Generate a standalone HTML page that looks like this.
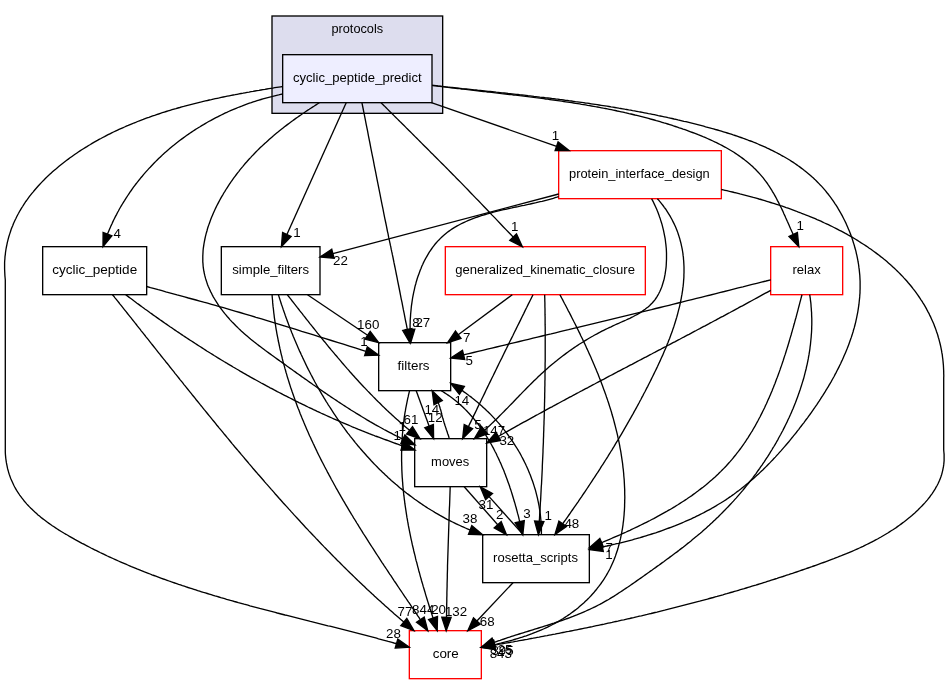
<!DOCTYPE html><html><head><meta charset="utf-8"><style>html,body{margin:0;padding:0;background:#fff}svg{display:block;will-change:transform}text{font-family:"Liberation Sans",sans-serif;font-size:13.33px;fill:#000}</style></head><body>
<svg width="949" height="684" viewBox="0 0 949 684">
<rect width="949" height="684" fill="#fff"/>
<rect x="272" y="16" width="170.67" height="97.33" fill="#ddddee" stroke="#000" stroke-width="1.333"/>
<text x="357.3" y="32.8" text-anchor="middle" textLength="51.7" lengthAdjust="spacingAndGlyphs">protocols</text>
<rect x="282.67" y="54.67" width="149.33" height="48" fill="#eeeeff" stroke="#000" stroke-width="1.333"/>
<text x="357.33" y="81.77" text-anchor="middle" textLength="128.7" lengthAdjust="spacingAndGlyphs">cyclic_peptide_predict</text>
<rect x="558.67" y="150.67" width="162.67" height="48" fill="white" stroke="#ff0000" stroke-width="1.333"/>
<text x="639.40" y="177.77" text-anchor="middle" textLength="140.7" lengthAdjust="spacingAndGlyphs">protein_interface_design</text>
<rect x="42.67" y="246.67" width="104.00" height="48" fill="white" stroke="#000" stroke-width="1.333"/>
<text x="94.67" y="273.77" text-anchor="middle" textLength="85.0" lengthAdjust="spacingAndGlyphs">cyclic_peptide</text>
<rect x="221.33" y="246.67" width="98.67" height="48" fill="white" stroke="#000" stroke-width="1.333"/>
<text x="270.67" y="273.77" text-anchor="middle" textLength="76.8" lengthAdjust="spacingAndGlyphs">simple_filters</text>
<rect x="445.33" y="246.67" width="200.00" height="48" fill="white" stroke="#ff0000" stroke-width="1.333"/>
<text x="545.13" y="273.77" text-anchor="middle" textLength="179.7" lengthAdjust="spacingAndGlyphs">generalized_kinematic_closure</text>
<rect x="770.67" y="246.67" width="72.00" height="48" fill="white" stroke="#ff0000" stroke-width="1.333"/>
<text x="806.67" y="273.77" text-anchor="middle" textLength="28.3" lengthAdjust="spacingAndGlyphs">relax</text>
<rect x="378.67" y="342.67" width="72.00" height="48" fill="white" stroke="#000" stroke-width="1.333"/>
<text x="413.57" y="369.77" text-anchor="middle" textLength="32.0" lengthAdjust="spacingAndGlyphs">filters</text>
<rect x="414.67" y="438.67" width="72.00" height="48" fill="white" stroke="#000" stroke-width="1.333"/>
<text x="450.17" y="465.77" text-anchor="middle" textLength="38.1" lengthAdjust="spacingAndGlyphs">moves</text>
<rect x="482.67" y="534.67" width="106.67" height="48" fill="white" stroke="#000" stroke-width="1.333"/>
<text x="535.50" y="561.77" text-anchor="middle" textLength="84.9" lengthAdjust="spacingAndGlyphs">rosetta_scripts</text>
<rect x="409.33" y="630.67" width="72.00" height="48" fill="white" stroke="#ff0000" stroke-width="1.333"/>
<text x="445.73" y="657.77" text-anchor="middle" textLength="26.1" lengthAdjust="spacingAndGlyphs">core</text>
<text x="117.3" y="237.6" text-anchor="middle">4</text>
<text x="297.0" y="237.1" text-anchor="middle">1</text>
<text x="340.4" y="265.4" text-anchor="middle">22</text>
<text x="555.5" y="140.3" text-anchor="middle">1</text>
<text x="514.8" y="230.9" text-anchor="middle">1</text>
<text x="800.3" y="230.1" text-anchor="middle">1</text>
<text x="368.2" y="328.7" text-anchor="middle">160</text>
<text x="416.0" y="326.5" text-anchor="middle">8</text>
<text x="422.8" y="326.5" text-anchor="middle">27</text>
<text x="363.9" y="345.6" text-anchor="middle">1</text>
<text x="466.8" y="342.1" text-anchor="middle">7</text>
<text x="469.3" y="364.9" text-anchor="middle">5</text>
<text x="461.8" y="404.5" text-anchor="middle">14</text>
<text x="431.8" y="413.9" text-anchor="middle">14</text>
<text x="435.2" y="421.5" text-anchor="middle">12</text>
<text x="411.0" y="423.7" text-anchor="middle">61</text>
<text x="402.1" y="431.2" text-anchor="middle">1</text>
<text x="397.2" y="439.9" text-anchor="middle">1</text>
<text x="477.9" y="428.7" text-anchor="middle">5</text>
<text x="494.0" y="434.6" text-anchor="middle">147</text>
<text x="506.8" y="445.3" text-anchor="middle">32</text>
<text x="486.0" y="508.5" text-anchor="middle">31</text>
<text x="499.7" y="519.1" text-anchor="middle">2</text>
<text x="526.9" y="517.8" text-anchor="middle">3</text>
<text x="548.2" y="520.1" text-anchor="middle">1</text>
<text x="571.8" y="528.3" text-anchor="middle">48</text>
<text x="470.0" y="522.9" text-anchor="middle">38</text>
<text x="609.2" y="552.0" text-anchor="middle">7</text>
<text x="609.0" y="559.1" text-anchor="middle">1</text>
<text x="405.0" y="615.9" text-anchor="middle">77</text>
<text x="423.2" y="613.9" text-anchor="middle">844</text>
<text x="438.6" y="613.9" text-anchor="middle">20</text>
<text x="456.0" y="615.9" text-anchor="middle">132</text>
<text x="487.2" y="626.0" text-anchor="middle">68</text>
<text x="393.4" y="638.2" text-anchor="middle">28</text>
<text x="502.5" y="654.7" text-anchor="middle">395</text>
<text x="505.0" y="653.5" text-anchor="middle">25</text>
<text x="500.8" y="658.1" text-anchor="middle">843</text>
<g fill="none" stroke="#000" stroke-width="1.333">
<path d="M282.7,86.5 L280.7,86.8 L278.7,87.1 L276.8,87.4 L274.8,87.7 L272.8,88.1 L270.9,88.4 L268.9,88.7 L266.9,89.0 L264.9,89.4 L262.9,89.7 L261.0,90.0 L259.0,90.4 L257.0,90.7 L255.0,91.0 L253.0,91.4 L251.0,91.7 L249.1,92.1 L247.1,92.4 L245.1,92.8 L243.1,93.2 L241.1,93.5 L239.1,93.9 L237.1,94.3 L235.1,94.7 L233.2,95.0 L231.2,95.4 L229.2,95.8 L227.2,96.2 L225.2,96.6 L223.2,97.0 L221.2,97.4 L219.3,97.9 L217.3,98.3 L215.3,98.7 L213.3,99.1 L211.3,99.6 L209.3,100.0 L207.4,100.5 L205.4,100.9 L203.4,101.4 L201.4,101.9 L199.5,102.3 L197.5,102.8 L195.5,103.3 L193.5,103.8 L191.6,104.3 L189.6,104.8 L187.6,105.3 L185.7,105.8 L183.7,106.4 L181.8,106.9 L179.8,107.5 L177.9,108.0 L175.9,108.6 L174.0,109.1 L172.0,109.7 L170.1,110.3 L168.1,110.9 L166.2,111.5 L164.3,112.1 L162.3,112.7 L160.4,113.3 L158.5,114.0 L156.6,114.6 L154.6,115.3 L152.7,115.9 L150.8,116.6 L148.9,117.3 L147.0,117.9 L145.1,118.6 L143.2,119.4 L141.3,120.1 L139.4,120.8 L137.6,121.5 L135.7,122.3 L133.8,123.0 L131.9,123.8 L130.1,124.6 L128.2,125.4 L126.3,126.1 L124.5,127.0 L122.7,127.8 L120.8,128.6 L119.0,129.4 L117.1,130.3 L115.3,131.2 L113.5,132.0 L111.7,132.9 L109.9,133.8 L108.1,134.7 L106.3,135.6 L104.5,136.6 L102.7,137.5 L100.9,138.5 L99.1,139.4 L97.4,140.4 L95.6,141.4 L93.8,142.4 L92.1,143.4 L90.4,144.5 L88.6,145.5 L86.9,146.6 L85.2,147.6 L83.4,148.7 L81.7,149.8 L80.0,150.9 L78.3,152.0 L76.6,153.2 L75.0,154.3 L73.3,155.5 L71.6,156.7 L70.0,157.8 L68.3,159.1 L66.7,160.3 L65.1,161.5 L63.5,162.7 L61.9,164.0 L60.3,165.3 L58.7,166.6 L57.1,167.9 L55.6,169.2 L54.0,170.5 L52.5,171.8 L51.0,173.2 L49.5,174.6 L48.0,175.9 L46.6,177.3 L45.1,178.7 L43.7,180.2 L42.3,181.6 L40.9,183.1 L39.6,184.5 L38.2,186.0 L36.9,187.5 L35.6,189.0 L34.3,190.5 L33.0,192.1 L31.7,193.6 L30.5,195.2 L29.3,196.7 L28.1,198.3 L27.0,199.9 L25.8,201.5 L24.7,203.2 L23.6,204.8 L22.6,206.5 L21.5,208.2 L20.5,209.8 L19.5,211.5 L18.6,213.3 L17.6,215.0 L16.7,216.7 L15.9,218.5 L15.0,220.3 L14.2,222.0 L13.4,223.8 L12.7,225.7 L11.9,227.5 L11.2,229.3 L10.6,231.2 L10.0,233.1 L9.4,234.9 L8.8,236.8 L8.3,238.7 L7.8,240.7 L7.3,242.6 L6.9,244.6 L6.5,246.5 L6.1,248.5 L5.8,250.5 L5.5,252.5 L5.3,254.6 L5.0,256.6 L4.9,258.7 L4.7,260.7 L4.6,262.8 L4.6,264.9 L4.6,267.0 L4.6,269.1 L4.7,271.3 L4.8,273.4 L4.9,275.6 L5.1,277.8 L5.3,280.0 L5.3,452.0 L5.4,454.2 L5.6,456.4 L5.8,458.5 L6.1,460.6 L6.4,462.7 L6.8,464.7 L7.2,466.7 L7.6,468.7 L8.2,470.7 L8.7,472.6 L9.3,474.5 L10.0,476.4 L10.6,478.2 L11.4,480.0 L12.2,481.8 L13.0,483.5 L13.8,485.3 L14.7,487.0 L15.6,488.6 L16.6,490.3 L17.6,491.9 L18.7,493.5 L19.7,495.1 L20.9,496.6 L22.0,498.2 L23.2,499.7 L24.4,501.2 L25.6,502.6 L26.9,504.1 L28.2,505.5 L29.5,506.9 L30.9,508.3 L32.3,509.6 L33.7,510.9 L35.1,512.3 L36.6,513.6 L38.0,514.9 L39.5,516.1 L41.1,517.4 L42.6,518.6 L44.2,519.8 L45.8,521.0 L47.4,522.2 L49.0,523.4 L50.6,524.5 L52.3,525.7 L54.0,526.8 L55.6,527.9 L57.3,529.0 L59.0,530.1 L60.8,531.2 L62.5,532.2 L64.2,533.3 L66.0,534.3 L67.7,535.3 L69.5,536.4 L71.3,537.4 L73.1,538.4 L74.8,539.4 L76.6,540.4 L78.4,541.3 L80.2,542.3 L82.0,543.3 L83.8,544.2 L85.6,545.2 L87.4,546.1 L89.2,547.0 L91.0,548.0 L92.8,548.9 L94.6,549.8 L96.5,550.7 L98.3,551.6 L100.1,552.5 L101.9,553.3 L103.7,554.2 L105.6,555.1 L107.4,556.0 L109.2,556.8 L111.1,557.7 L112.9,558.5 L114.8,559.3 L116.6,560.2 L118.4,561.0 L120.3,561.8 L122.1,562.6 L124.0,563.4 L125.9,564.2 L127.7,565.0 L129.6,565.8 L131.4,566.6 L133.3,567.3 L135.2,568.1 L137.0,568.9 L138.9,569.6 L140.8,570.4 L142.6,571.1 L144.5,571.9 L146.4,572.6 L148.3,573.3 L150.1,574.0 L152.0,574.8 L153.9,575.5 L155.8,576.2 L157.7,576.9 L159.6,577.6 L161.5,578.3 L163.4,579.0 L165.3,579.6 L167.2,580.3 L169.0,581.0 L170.9,581.7 L172.8,582.3 L174.8,583.0 L176.7,583.6 L178.6,584.3 L180.5,584.9 L182.4,585.6 L184.3,586.2 L186.2,586.8 L188.1,587.5 L190.0,588.1 L191.9,588.7 L193.9,589.3 L195.8,589.9 L197.7,590.6 L199.6,591.2 L201.5,591.8 L203.5,592.4 L205.4,592.9 L207.3,593.5 L209.2,594.1 L211.2,594.7 L213.1,595.3 L215.0,595.9 L217.0,596.4 L218.9,597.0 L220.8,597.6 L222.8,598.1 L224.7,598.7 L226.6,599.3 L228.6,599.8 L230.5,600.4 L232.4,600.9 L234.4,601.5 L236.3,602.0 L238.3,602.6 L240.2,603.1 L242.1,603.6 L244.1,604.2 L246.0,604.7 L248.0,605.2 L249.9,605.8 L251.9,606.3 L253.8,606.8 L255.8,607.3 L257.7,607.8 L259.7,608.4 L261.6,608.9 L263.6,609.4 L265.5,609.9 L267.5,610.4 L269.4,610.9 L271.4,611.4 L273.3,611.9 L275.3,612.4 L277.2,613.0 L279.2,613.5 L281.1,614.0 L283.1,614.5 L285.0,615.0 L287.0,615.4 L288.9,615.9 L290.9,616.4 L292.8,616.9 L294.8,617.4 L296.7,617.9 L298.7,618.4 L300.6,618.9 L302.6,619.4 L304.5,619.9 L306.5,620.4 L308.5,620.9 L310.4,621.4 L312.4,621.8 L314.3,622.3 L316.3,622.8 L318.2,623.3 L320.2,623.8 L322.1,624.3 L324.1,624.8 L326.0,625.3 L328.0,625.8 L329.9,626.2 L331.9,626.7 L333.8,627.2 L335.8,627.7 L337.7,628.2 L339.7,628.7 L341.6,629.2 L343.6,629.7 L345.5,630.2 L347.5,630.7 L349.4,631.2 L351.4,631.7 L353.3,632.2 L355.2,632.7 L357.2,633.2 L359.1,633.7 L361.1,634.2 L363.0,634.7 L365.0,635.2 L366.9,635.7 L368.8,636.2 L370.8,636.7 L372.7,637.2 L374.7,637.7 L376.6,638.2 L378.5,638.8 L380.5,639.3 L382.4,639.8 L384.3,640.3 L386.3,640.8 L388.2,641.4 L390.1,641.9 L392.0,642.4 L394.0,643.0 L395.9,643.5 L396.5,643.7"/><polygon fill="#000" points="395.2,648.1 409.3,647.3 397.8,639.2"/>
<path d="M282.7,94.0 L280.7,94.4 L278.7,94.9 L276.7,95.3 L274.7,95.8 L272.7,96.3 L270.8,96.8 L268.8,97.3 L266.8,97.8 L264.9,98.3 L262.9,98.9 L261.0,99.5 L259.0,100.1 L257.1,100.7 L255.1,101.3 L253.2,101.9 L251.3,102.6 L249.4,103.2 L247.4,103.9 L245.5,104.6 L243.6,105.3 L241.7,106.1 L239.8,106.8 L238.0,107.5 L236.1,108.3 L234.2,109.1 L232.3,109.9 L230.5,110.7 L228.6,111.5 L226.8,112.4 L224.9,113.2 L223.1,114.1 L221.3,115.0 L219.5,115.9 L217.7,116.8 L215.9,117.7 L214.1,118.6 L212.3,119.6 L210.5,120.6 L208.7,121.5 L207.0,122.5 L205.2,123.6 L203.5,124.6 L201.7,125.6 L200.0,126.7 L198.3,127.7 L196.6,128.8 L194.9,129.9 L193.2,131.0 L191.5,132.1 L189.8,133.2 L188.2,134.4 L186.5,135.5 L184.9,136.7 L183.3,137.9 L181.6,139.1 L180.0,140.3 L178.4,141.5 L176.8,142.8 L175.3,144.0 L173.7,145.3 L172.1,146.5 L170.6,147.8 L169.1,149.1 L167.5,150.4 L166.0,151.8 L164.5,153.1 L163.0,154.4 L161.6,155.8 L160.1,157.2 L158.6,158.6 L157.2,160.0 L155.8,161.4 L154.4,162.8 L153.0,164.2 L151.6,165.7 L150.2,167.2 L148.8,168.6 L147.5,170.1 L146.1,171.6 L144.8,173.1 L143.5,174.6 L142.2,176.2 L140.9,177.7 L139.7,179.3 L138.4,180.8 L137.2,182.4 L135.9,184.0 L134.7,185.6 L133.5,187.2 L132.3,188.9 L131.2,190.5 L130.0,192.1 L128.9,193.8 L127.8,195.5 L126.7,197.2 L125.6,198.8 L124.5,200.6 L123.4,202.3 L122.4,204.0 L121.4,205.7 L120.3,207.5 L119.3,209.2 L118.4,211.0 L117.4,212.8 L116.5,214.6 L115.5,216.4 L114.6,218.2 L113.7,220.0 L112.8,221.9 L112.0,223.7 L111.1,225.6 L110.3,227.4 L109.5,229.3 L108.7,231.2 L107.9,233.1 L107.5,234.1"/><polygon fill="#000" points="103.1,232.5 103.0,246.7 111.9,235.7"/>
<path d="M319.4,102.7 L317.7,103.8 L316.0,104.9 L314.3,106.0 L312.5,107.1 L310.8,108.2 L309.2,109.3 L307.5,110.4 L305.8,111.5 L304.1,112.7 L302.4,113.8 L300.8,115.0 L299.1,116.1 L297.5,117.3 L295.8,118.4 L294.2,119.6 L292.6,120.8 L290.9,122.0 L289.3,123.2 L287.7,124.4 L286.1,125.6 L284.5,126.8 L283.0,128.1 L281.4,129.3 L279.8,130.5 L278.3,131.8 L276.7,133.1 L275.2,134.3 L273.7,135.6 L272.1,136.9 L270.6,138.2 L269.1,139.5 L267.6,140.9 L266.2,142.2 L264.7,143.5 L263.2,144.9 L261.8,146.3 L260.3,147.6 L258.9,149.0 L257.5,150.4 L256.1,151.8 L254.7,153.2 L253.3,154.7 L251.9,156.1 L250.6,157.6 L249.2,159.0 L247.9,160.5 L246.6,162.0 L245.2,163.5 L243.9,165.1 L242.7,166.6 L241.4,168.1 L240.1,169.7 L238.9,171.3 L237.6,172.9 L236.4,174.5 L235.2,176.1 L234.0,177.7 L232.8,179.3 L231.6,181.0 L230.5,182.7 L229.3,184.4 L228.2,186.1 L227.1,187.8 L226.0,189.5 L224.9,191.3 L223.8,193.0 L222.8,194.8 L221.7,196.6 L220.7,198.4 L219.7,200.2 L218.7,202.1 L217.8,203.9 L216.8,205.8 L215.9,207.6 L215.0,209.5 L214.1,211.4 L213.3,213.3 L212.5,215.2 L211.7,217.1 L210.9,219.1 L210.2,221.0 L209.5,222.9 L208.8,224.9 L208.1,226.8 L207.5,228.8 L207.0,230.7 L206.4,232.7 L205.9,234.6 L205.4,236.6 L205.0,238.5 L204.6,240.5 L204.2,242.5 L203.9,244.4 L203.6,246.4 L203.3,248.3 L203.1,250.3 L203.0,252.2 L202.9,254.2 L202.8,256.1 L202.8,258.1 L202.8,260.0 L202.8,261.9 L203.0,263.9 L203.1,265.8 L203.3,267.7 L203.6,269.6 L203.9,271.5 L204.3,273.4 L204.7,275.2 L205.2,277.1 L205.7,278.9 L206.3,280.8 L206.9,282.6 L207.5,284.4 L208.2,286.2 L209.0,288.0 L209.8,289.8 L210.6,291.6 L211.5,293.3 L212.4,295.1 L213.3,296.8 L214.3,298.5 L215.3,300.2 L216.4,301.9 L217.5,303.6 L218.6,305.3 L219.7,306.9 L220.9,308.5 L222.1,310.2 L223.4,311.8 L224.6,313.4 L225.9,314.9 L227.2,316.5 L228.6,318.0 L229.9,319.6 L231.3,321.1 L232.7,322.6 L234.2,324.0 L235.6,325.5 L237.1,326.9 L238.5,328.4 L240.0,329.8 L241.5,331.2 L243.0,332.5 L244.6,333.9 L246.1,335.2 L247.7,336.6 L249.3,337.9 L250.8,339.2 L252.4,340.5 L254.0,341.8 L255.6,343.0 L257.2,344.3 L258.9,345.6 L260.5,346.8 L262.1,348.0 L263.8,349.3 L265.4,350.5 L267.1,351.7 L268.7,352.9 L270.4,354.1 L272.0,355.3 L273.7,356.5 L275.4,357.7 L277.0,358.9 L278.7,360.1 L280.3,361.3 L282.0,362.4 L283.6,363.6 L285.3,364.8 L286.9,366.0 L288.6,367.2 L290.2,368.4 L291.9,369.5 L293.5,370.7 L295.2,371.9 L296.8,373.1 L298.5,374.2 L300.1,375.4 L301.7,376.6 L303.4,377.7 L305.0,378.9 L306.7,380.0 L308.3,381.2 L309.9,382.4 L311.6,383.5 L313.2,384.7 L314.8,385.8 L316.5,387.0 L318.1,388.1 L319.8,389.2 L321.4,390.4 L323.1,391.5 L324.7,392.6 L326.4,393.8 L328.0,394.9 L329.7,396.0 L331.3,397.1 L333.0,398.2 L334.6,399.3 L336.3,400.4 L337.9,401.5 L339.6,402.6 L341.3,403.7 L342.9,404.8 L344.6,405.9 L346.3,407.0 L347.9,408.0 L349.6,409.1 L351.3,410.2 L353.0,411.2 L354.7,412.3 L356.4,413.4 L358.1,414.4 L359.8,415.4 L361.5,416.5 L363.2,417.5 L364.9,418.5 L366.6,419.6 L368.3,420.6 L370.0,421.6 L371.8,422.6 L373.5,423.6 L375.2,424.6 L377.0,425.6 L378.7,426.5 L380.5,427.5 L382.3,428.5 L384.0,429.5 L385.8,430.4 L387.6,431.4 L389.4,432.3 L391.1,433.2 L392.9,434.2 L394.7,435.1 L396.5,436.0 L398.4,436.9 L400.2,437.8 L402.0,438.7 L402.9,439.2"/><polygon fill="#000" points="400.9,443.4 415.0,444.8 404.9,434.9"/>
<path d="M346.2,102.7 L286.9,234.5"/><polygon fill="#000" points="282.6,232.6 281.4,246.7 291.1,236.4"/>
<path d="M361.9,102.7 L363.0,108.0 L364.1,113.6 L365.2,119.2 L366.3,124.9 L367.5,130.7 L368.6,136.6 L369.8,142.5 L370.9,148.4 L372.1,154.3 L373.3,160.2 L374.4,166.1 L375.6,171.9 L376.7,177.6 L377.8,183.2 L378.9,188.7 L380.0,194.1 L381.0,199.3 L382.0,204.4 L383.0,209.2 L383.9,213.9 L384.8,218.3 L385.7,222.5 L386.5,226.4 L387.2,230.0 L387.5,231.6 L387.9,233.2 L388.2,234.6 L388.4,236.0 L388.7,237.4 L389.0,238.6 L389.2,239.8 L389.5,241.0 L389.7,242.1 L390.0,243.2 L390.2,244.3 L390.4,245.4 L390.7,246.4 L390.9,247.5 L391.1,248.6 L391.3,249.7 L391.6,250.8 L391.8,251.9 L392.1,253.1 L392.3,254.4 L392.6,255.7 L392.9,257.0 L393.2,258.5 L393.5,260.0 L394.0,262.7 L394.6,265.5 L395.2,268.4 L395.8,271.4 L396.4,274.5 L397.1,277.8 L397.7,281.1 L398.4,284.5 L399.1,288.0 L399.8,291.5 L400.5,295.1 L401.2,298.8 L402.0,302.4 L402.7,306.1 L403.4,309.9 L404.2,313.6 L404.9,317.3 L405.6,321.0 L406.4,324.7 L407.1,328.4 L407.3,329.6"/><polygon fill="#000" points="402.7,330.5 409.9,342.7 411.9,328.7"/>
<path d="M381.0,102.7 L382.6,104.3 L384.3,105.9 L385.9,107.5 L387.5,109.1 L389.1,110.8 L390.8,112.4 L392.4,114.0 L394.0,115.6 L395.6,117.2 L397.3,118.9 L398.9,120.5 L400.5,122.1 L402.2,123.7 L403.8,125.3 L405.4,126.9 L407.0,128.6 L408.7,130.2 L410.3,131.8 L411.9,133.4 L413.5,135.0 L415.1,136.6 L416.8,138.3 L418.4,139.9 L420.0,141.5 L421.6,143.1 L423.2,144.7 L424.7,146.2 L426.3,147.8 L427.8,149.3 L429.4,150.9 L430.9,152.4 L432.5,153.9 L434.0,155.5 L435.5,157.0 L437.0,158.5 L438.6,160.1 L440.1,161.6 L441.7,163.2 L443.3,164.8 L444.9,166.4 L446.5,168.0 L448.1,169.6 L449.7,171.3 L451.4,173.0 L453.1,174.7 L454.8,176.4 L456.5,178.2 L458.3,180.0 L460.7,182.4 L463.1,184.9 L465.5,187.4 L468.1,190.0 L470.6,192.7 L473.2,195.4 L475.8,198.1 L478.5,200.8 L481.2,203.6 L483.9,206.5 L486.6,209.3 L489.4,212.2 L492.1,215.1 L494.9,217.9 L497.7,220.9 L500.4,223.8 L503.2,226.7 L506.0,229.6 L508.8,232.5 L511.5,235.3 L513.2,237.1"/><polygon fill="#000" points="509.8,240.3 522.4,246.7 516.5,233.8"/>
<path d="M431.4,102.7 L556.6,146.3"/><polygon fill="#000" points="555.1,150.7 569.2,150.7 558.1,141.9"/>
<path d="M432.0,85.3 L434.0,85.6 L435.9,85.8 L437.9,86.1 L439.9,86.3 L441.9,86.6 L443.9,86.8 L445.8,87.1 L447.8,87.3 L449.8,87.5 L451.8,87.8 L453.8,88.0 L455.8,88.3 L457.7,88.5 L459.7,88.7 L461.7,89.0 L463.7,89.2 L465.7,89.4 L467.7,89.7 L469.7,89.9 L471.7,90.1 L473.7,90.4 L475.7,90.6 L477.7,90.8 L479.7,91.0 L481.6,91.3 L483.6,91.5 L485.6,91.7 L487.6,92.0 L489.6,92.2 L491.6,92.4 L493.6,92.6 L495.6,92.9 L497.6,93.1 L499.6,93.3 L501.6,93.6 L503.6,93.8 L505.6,94.0 L507.7,94.3 L509.7,94.5 L511.7,94.7 L513.7,95.0 L515.7,95.2 L517.7,95.4 L519.7,95.7 L521.7,95.9 L523.7,96.2 L525.7,96.4 L527.7,96.6 L529.7,96.9 L531.7,97.1 L533.7,97.4 L535.7,97.7 L537.7,97.9 L539.7,98.2 L541.7,98.4 L543.7,98.7 L545.7,99.0 L547.7,99.2 L549.7,99.5 L551.7,99.8 L553.7,100.0 L555.7,100.3 L557.7,100.6 L559.7,100.9 L561.7,101.2 L563.7,101.5 L565.7,101.8 L567.7,102.1 L569.7,102.4 L571.7,102.7 L573.7,103.0 L575.7,103.3 L577.7,103.6 L579.6,103.9 L581.6,104.3 L583.6,104.6 L585.6,104.9 L587.6,105.3 L589.6,105.6 L591.6,106.0 L593.5,106.3 L595.5,106.7 L597.5,107.0 L599.5,107.4 L601.5,107.8 L603.4,108.2 L605.4,108.5 L607.4,108.9 L609.4,109.3 L611.3,109.7 L613.3,110.1 L615.3,110.5 L617.3,111.0 L619.2,111.4 L621.2,111.8 L623.1,112.2 L625.1,112.7 L627.1,113.1 L629.0,113.6 L631.0,114.0 L632.9,114.5 L634.9,115.0 L636.8,115.4 L638.8,115.9 L640.7,116.4 L642.7,116.9 L644.6,117.4 L646.6,117.9 L648.5,118.4 L650.5,119.0 L652.4,119.5 L654.3,120.0 L656.3,120.6 L658.2,121.1 L660.1,121.7 L662.0,122.3 L664.0,122.9 L665.9,123.4 L667.8,124.0 L669.7,124.6 L671.6,125.2 L673.5,125.9 L675.4,126.5 L677.4,127.1 L679.3,127.8 L681.2,128.4 L683.1,129.1 L685.0,129.7 L686.9,130.4 L688.7,131.1 L690.6,131.8 L692.5,132.5 L694.4,133.2 L696.3,133.9 L698.2,134.7 L700.0,135.4 L701.9,136.2 L703.7,137.0 L705.6,137.7 L707.4,138.5 L709.3,139.3 L711.1,140.2 L712.9,141.0 L714.7,141.9 L716.5,142.7 L718.3,143.6 L720.1,144.5 L721.9,145.4 L723.6,146.4 L725.4,147.3 L727.1,148.3 L728.8,149.3 L730.5,150.3 L732.2,151.3 L733.9,152.3 L735.5,153.4 L737.2,154.5 L738.8,155.6 L740.4,156.7 L742.0,157.9 L743.6,159.1 L745.1,160.3 L746.7,161.5 L748.2,162.7 L749.7,164.0 L751.1,165.3 L752.6,166.6 L754.0,168.0 L755.4,169.3 L756.8,170.8 L758.2,172.2 L759.5,173.6 L760.8,175.1 L762.1,176.6 L763.4,178.2 L764.6,179.8 L765.8,181.4 L767.0,183.0 L768.1,184.7 L769.3,186.4 L770.4,188.1 L771.5,189.8 L772.5,191.6 L773.6,193.3 L774.6,195.1 L775.6,196.9 L776.6,198.8 L777.5,200.6 L778.5,202.4 L779.4,204.3 L780.4,206.2 L781.3,208.0 L782.2,209.9 L783.1,211.8 L783.9,213.7 L784.8,215.6 L785.6,217.5 L786.5,219.4 L787.3,221.3 L788.2,223.2 L789.0,225.1 L789.8,226.9 L790.6,228.8 L791.5,230.7 L792.3,232.5 L793.1,234.3 L793.2,234.6"/><polygon fill="#000" points="789.0,236.5 798.8,246.7 797.4,232.6"/>
<path d="M432.0,85.3 L434.0,85.5 L436.0,85.7 L438.1,86.0 L440.1,86.2 L442.1,86.4 L444.1,86.6 L446.1,86.8 L448.1,87.1 L450.1,87.3 L452.1,87.5 L454.2,87.7 L456.2,87.9 L458.2,88.1 L460.2,88.3 L462.2,88.6 L464.2,88.8 L466.2,89.0 L468.2,89.2 L470.2,89.4 L472.2,89.6 L474.2,89.8 L476.2,90.0 L478.2,90.3 L480.2,90.5 L482.2,90.7 L484.2,90.9 L486.2,91.1 L488.2,91.3 L490.2,91.5 L492.2,91.7 L494.2,91.9 L496.2,92.2 L498.2,92.4 L500.2,92.6 L502.1,92.8 L504.1,93.0 L506.1,93.2 L508.1,93.5 L510.1,93.7 L512.1,93.9 L514.1,94.1 L516.1,94.3 L518.1,94.5 L520.0,94.8 L522.0,95.0 L524.0,95.2 L526.0,95.4 L528.0,95.7 L530.0,95.9 L531.9,96.1 L533.9,96.4 L535.9,96.6 L537.9,96.8 L539.9,97.1 L541.9,97.3 L543.8,97.5 L545.8,97.8 L547.8,98.0 L549.8,98.2 L551.7,98.5 L553.7,98.7 L555.7,99.0 L557.7,99.2 L559.7,99.5 L561.6,99.7 L563.6,100.0 L565.6,100.3 L567.6,100.5 L569.5,100.8 L571.5,101.0 L573.5,101.3 L575.5,101.6 L577.4,101.8 L579.4,102.1 L581.4,102.4 L583.3,102.7 L585.3,103.0 L587.3,103.2 L589.3,103.5 L591.2,103.8 L593.2,104.1 L595.2,104.4 L597.2,104.7 L599.1,105.0 L601.1,105.3 L603.1,105.6 L605.0,105.9 L607.0,106.2 L609.0,106.5 L611.0,106.9 L612.9,107.2 L614.9,107.5 L616.9,107.8 L618.8,108.2 L620.8,108.5 L622.8,108.8 L624.7,109.2 L626.7,109.5 L628.7,109.9 L630.7,110.2 L632.6,110.6 L634.6,110.9 L636.6,111.3 L638.5,111.7 L640.5,112.0 L642.5,112.4 L644.5,112.8 L646.4,113.2 L648.4,113.6 L650.4,113.9 L652.3,114.3 L654.3,114.7 L656.3,115.1 L658.3,115.6 L660.2,116.0 L662.2,116.4 L664.2,116.8 L666.1,117.2 L668.1,117.7 L670.1,118.1 L672.1,118.5 L674.0,119.0 L676.0,119.4 L678.0,119.9 L680.0,120.3 L681.9,120.8 L683.9,121.3 L685.9,121.7 L687.9,122.2 L689.8,122.7 L691.8,123.2 L693.8,123.7 L695.8,124.2 L697.7,124.7 L699.7,125.2 L701.7,125.7 L703.7,126.2 L705.6,126.8 L707.6,127.3 L709.6,127.8 L711.6,128.4 L713.5,128.9 L715.5,129.5 L717.5,130.0 L719.5,130.6 L721.4,131.2 L723.4,131.8 L725.4,132.4 L727.3,133.0 L729.3,133.6 L731.2,134.2 L733.2,134.9 L735.1,135.5 L737.1,136.1 L739.0,136.8 L740.9,137.5 L742.8,138.2 L744.8,138.8 L746.7,139.5 L748.6,140.3 L750.5,141.0 L752.4,141.7 L754.2,142.5 L756.1,143.2 L758.0,144.0 L759.8,144.8 L761.7,145.6 L763.5,146.4 L765.4,147.2 L767.2,148.1 L769.0,148.9 L770.8,149.8 L772.6,150.7 L774.4,151.6 L776.2,152.5 L777.9,153.4 L779.7,154.3 L781.4,155.3 L783.2,156.3 L784.9,157.3 L786.6,158.3 L788.3,159.3 L790.0,160.3 L791.6,161.4 L793.3,162.4 L794.9,163.5 L796.5,164.6 L798.1,165.8 L799.7,166.9 L801.3,168.1 L802.9,169.3 L804.4,170.5 L806.0,171.7 L807.5,172.9 L809.0,174.2 L810.5,175.5 L811.9,176.8 L813.4,178.1 L814.8,179.4 L816.2,180.8 L817.6,182.2 L819.0,183.6 L820.3,185.0 L821.7,186.4 L823.0,187.9 L824.3,189.4 L825.6,190.9 L826.8,192.5 L828.1,194.0 L829.3,195.6 L830.5,197.2 L831.7,198.8 L832.8,200.4 L834.0,202.1 L835.1,203.8 L836.2,205.4 L837.3,207.1 L838.3,208.9 L839.3,210.6 L840.3,212.3 L841.3,214.1 L842.3,215.9 L843.2,217.7 L844.1,219.5 L845.0,221.3 L845.9,223.1 L846.7,225.0 L847.5,226.8 L848.3,228.7 L849.1,230.5 L849.9,232.4 L850.6,234.3 L851.3,236.2 L852.0,238.1 L852.6,240.0 L853.2,242.0 L853.8,243.9 L854.4,245.8 L854.9,247.8 L855.5,249.7 L856.0,251.7 L856.4,253.6 L856.9,255.6 L857.3,257.6 L857.7,259.5 L858.0,261.5 L858.4,263.5 L858.7,265.5 L858.9,267.4 L859.2,269.4 L859.4,271.4 L859.6,273.4 L859.8,275.3 L859.9,277.3 L860.0,279.3 L860.1,281.3 L860.1,283.2 L860.1,285.2 L860.1,287.2 L860.1,289.1 L860.0,291.1 L860.0,293.0 L859.8,295.0 L859.7,296.9 L859.5,298.9 L859.3,300.8 L859.1,302.8 L858.9,304.7 L858.6,306.7 L858.3,308.6 L858.0,310.6 L857.7,312.5 L857.3,314.4 L856.9,316.4 L856.5,318.3 L856.1,320.2 L855.7,322.1 L855.2,324.0 L854.7,326.0 L854.2,327.9 L853.6,329.8 L853.1,331.7 L852.5,333.6 L851.9,335.5 L851.3,337.4 L850.6,339.3 L850.0,341.1 L849.3,343.0 L848.6,344.9 L847.9,346.8 L847.2,348.6 L846.4,350.5 L845.6,352.4 L844.8,354.2 L844.0,356.1 L843.2,357.9 L842.4,359.8 L841.5,361.6 L840.7,363.5 L839.8,365.3 L838.9,367.1 L838.0,368.9 L837.0,370.8 L836.1,372.6 L835.1,374.4 L834.2,376.2 L833.2,378.0 L832.2,379.8 L831.2,381.6 L830.2,383.3 L829.1,385.1 L828.1,386.9 L827.0,388.7 L825.9,390.4 L824.9,392.2 L823.8,393.9 L822.7,395.7 L821.5,397.4 L820.4,399.2 L819.3,400.9 L818.1,402.6 L817.0,404.3 L815.8,406.0 L814.7,407.7 L813.5,409.4 L812.3,411.1 L811.1,412.8 L809.9,414.5 L808.7,416.1 L807.5,417.8 L806.2,419.5 L805.0,421.1 L803.8,422.8 L802.5,424.4 L801.3,426.0 L800.0,427.7 L798.8,429.3 L797.5,430.9 L796.3,432.5 L795.0,434.1 L793.7,435.7 L792.4,437.3 L791.1,438.8 L789.9,440.4 L788.6,442.0 L787.3,443.5 L786.0,445.0 L784.6,446.6 L783.3,448.1 L782.0,449.6 L780.7,451.1 L779.3,452.6 L778.0,454.1 L776.6,455.6 L775.3,457.1 L773.9,458.5 L772.6,460.0 L771.2,461.4 L769.8,462.9 L768.4,464.3 L767.0,465.7 L765.6,467.1 L764.2,468.5 L762.8,469.9 L761.3,471.2 L759.9,472.6 L758.5,474.0 L757.0,475.3 L755.6,476.6 L754.1,477.9 L752.6,479.2 L751.1,480.5 L749.6,481.8 L748.1,483.1 L746.6,484.3 L745.1,485.6 L743.6,486.8 L742.0,488.1 L740.5,489.3 L738.9,490.5 L737.3,491.6 L735.8,492.8 L734.2,494.0 L732.6,495.1 L731.0,496.3 L729.3,497.4 L727.7,498.5 L726.1,499.6 L724.4,500.7 L722.8,501.7 L721.1,502.8 L719.4,503.8 L717.7,504.8 L716.0,505.9 L714.3,506.9 L712.6,507.8 L710.9,508.8 L709.1,509.8 L707.4,510.7 L705.6,511.7 L703.9,512.6 L702.1,513.5 L700.3,514.4 L698.5,515.3 L696.7,516.2 L694.9,517.1 L693.1,517.9 L691.3,518.8 L689.5,519.6 L687.7,520.4 L685.8,521.2 L684.0,522.0 L682.1,522.8 L680.3,523.6 L678.4,524.4 L676.6,525.1 L674.7,525.9 L672.8,526.6 L670.9,527.3 L669.0,528.0 L667.1,528.7 L665.2,529.4 L663.3,530.1 L661.4,530.8 L659.5,531.5 L657.6,532.1 L655.7,532.8 L653.8,533.4 L651.8,534.0 L649.9,534.6 L648.0,535.2 L646.0,535.8 L644.1,536.4 L642.2,537.0 L640.2,537.6 L638.3,538.1 L636.3,538.7 L634.4,539.2 L632.4,539.8 L630.5,540.3 L628.5,540.8 L626.6,541.3 L624.6,541.8 L622.6,542.3 L620.7,542.8 L618.7,543.3 L616.8,543.7 L614.8,544.2 L612.8,544.6 L610.9,545.1 L608.9,545.5 L606.9,546.0 L605.0,546.4 L603.0,546.8 L602.4,546.9"/><polygon fill="#000" points="601.5,542.3 589.3,549.5 603.3,551.5"/>
<path d="M558.7,194.0 L332.9,253.7"/><polygon fill="#000" points="331.7,249.2 320.0,257.1 334.1,258.2"/>
<path d="M558.7,196.6 L556.9,197.2 L555.1,197.7 L553.3,198.3 L551.5,198.8 L549.7,199.3 L547.8,199.8 L545.9,200.3 L544.0,200.8 L542.1,201.3 L540.1,201.7 L538.2,202.2 L536.2,202.7 L534.2,203.1 L532.2,203.5 L530.2,204.0 L528.2,204.4 L526.2,204.8 L524.2,205.3 L522.1,205.7 L520.1,206.1 L518.0,206.6 L516.0,207.0 L513.9,207.4 L511.9,207.9 L509.8,208.3 L507.7,208.8 L505.7,209.3 L503.6,209.7 L501.5,210.2 L499.5,210.7 L497.4,211.2 L495.4,211.7 L493.4,212.2 L491.3,212.8 L489.3,213.3 L487.3,213.9 L485.3,214.5 L483.3,215.1 L481.3,215.7 L479.4,216.4 L477.4,217.0 L475.5,217.7 L473.6,218.4 L471.7,219.1 L469.8,219.9 L467.9,220.7 L466.1,221.5 L464.2,222.3 L462.5,223.1 L460.7,224.0 L458.9,225.0 L457.2,225.9 L455.5,226.9 L453.8,227.9 L452.2,228.9 L450.6,230.0 L449.0,231.1 L447.4,232.3 L445.9,233.5 L444.4,234.7 L443.0,235.9 L441.6,237.2 L440.2,238.6 L438.9,240.0 L437.5,241.4 L436.3,242.8 L435.0,244.3 L433.8,245.8 L432.6,247.4 L431.5,249.0 L430.4,250.6 L429.3,252.2 L428.3,253.9 L427.3,255.6 L426.3,257.3 L425.3,259.1 L424.4,260.8 L423.5,262.6 L422.7,264.5 L421.8,266.3 L421.1,268.2 L420.3,270.1 L419.6,272.0 L418.9,273.9 L418.2,275.8 L417.5,277.8 L416.9,279.8 L416.3,281.7 L415.8,283.7 L415.2,285.7 L414.7,287.8 L414.3,289.8 L413.8,291.8 L413.4,293.9 L413.0,295.9 L412.6,298.0 L412.3,300.0 L412.0,302.1 L411.7,304.2 L411.4,306.2 L411.2,308.3 L411.0,310.4 L410.8,312.5 L410.6,314.5 L410.5,316.6 L410.3,318.6 L410.2,320.7 L410.2,322.7 L410.1,324.8 L410.1,326.8 L410.1,328.8 L410.1,329.4"/><polygon fill="#000" points="405.4,329.6 410.7,342.7 414.8,329.1"/>
<path d="M651.6,198.7 L652.5,200.4 L653.4,202.1 L654.2,203.9 L655.1,205.7 L655.9,207.5 L656.7,209.3 L657.4,211.1 L658.2,213.0 L658.9,214.9 L659.5,216.7 L660.2,218.6 L660.8,220.6 L661.4,222.5 L662.0,224.4 L662.5,226.4 L663.0,228.4 L663.5,230.3 L663.9,232.3 L664.3,234.3 L664.7,236.4 L665.1,238.4 L665.4,240.5 L665.6,242.5 L665.9,244.6 L666.1,246.7 L666.3,248.7 L666.4,250.8 L666.5,252.9 L666.5,255.1 L666.5,257.2 L666.5,259.3 L666.4,261.5 L666.3,263.6 L666.2,265.7 L666.0,267.8 L665.7,270.0 L665.4,272.1 L665.1,274.2 L664.7,276.2 L664.3,278.3 L663.8,280.3 L663.2,282.3 L662.6,284.3 L662.0,286.2 L661.3,288.1 L660.5,289.9 L659.7,291.7 L658.8,293.5 L657.9,295.2 L656.9,296.9 L655.8,298.5 L654.7,300.1 L653.5,301.5 L652.2,303.0 L650.9,304.3 L649.5,305.7 L648.1,306.9 L646.6,308.1 L645.1,309.3 L643.5,310.4 L641.9,311.5 L640.3,312.6 L638.6,313.6 L636.9,314.6 L635.1,315.5 L633.4,316.5 L631.6,317.4 L629.8,318.3 L627.9,319.1 L626.1,320.0 L624.2,320.8 L622.3,321.7 L620.4,322.5 L618.6,323.4 L616.7,324.2 L614.8,325.0 L612.9,325.9 L611.1,326.8 L609.2,327.6 L607.4,328.5 L605.5,329.4 L603.7,330.3 L601.9,331.2 L600.1,332.2 L598.3,333.1 L596.5,334.1 L594.7,335.0 L593.0,336.0 L591.2,337.0 L589.5,338.0 L587.8,339.0 L586.0,340.1 L584.3,341.1 L582.6,342.2 L580.9,343.2 L579.2,344.3 L577.6,345.4 L575.9,346.5 L574.2,347.6 L572.6,348.7 L571.0,349.9 L569.3,351.0 L567.7,352.2 L566.1,353.4 L564.5,354.6 L562.9,355.8 L561.3,357.0 L559.7,358.2 L558.1,359.4 L556.6,360.7 L555.0,361.9 L553.5,363.2 L551.9,364.5 L550.4,365.8 L548.9,367.1 L547.4,368.4 L545.9,369.7 L544.4,371.1 L542.9,372.4 L541.4,373.8 L539.9,375.2 L538.4,376.6 L537.0,378.0 L535.5,379.4 L534.0,380.8 L532.6,382.2 L531.1,383.7 L529.7,385.1 L528.3,386.5 L526.8,388.0 L525.4,389.5 L524.0,390.9 L522.5,392.4 L521.1,393.9 L519.7,395.3 L518.3,396.8 L516.8,398.3 L515.4,399.7 L514.0,401.2 L512.6,402.7 L511.1,404.2 L509.7,405.6 L508.3,407.1 L506.9,408.6 L505.4,410.0 L504.0,411.5 L502.6,412.9 L501.1,414.4 L499.7,415.8 L498.3,417.2 L496.8,418.7 L495.4,420.1 L493.9,421.5 L492.4,422.9 L491.0,424.3 L489.5,425.7 L488.0,427.0 L486.5,428.4 L485.0,429.7 L484.5,430.1"/><polygon fill="#000" points="481.5,426.5 474.3,438.7 487.5,433.7"/>
<path d="M657.4,198.7 L658.9,200.4 L660.3,202.1 L661.7,203.8 L663.0,205.5 L664.3,207.3 L665.6,209.0 L666.8,210.8 L667.9,212.6 L669.0,214.4 L670.1,216.2 L671.1,218.0 L672.1,219.8 L673.0,221.6 L673.9,223.4 L674.8,225.2 L675.6,227.1 L676.4,228.9 L677.1,230.8 L677.8,232.6 L678.4,234.5 L679.0,236.4 L679.6,238.2 L680.1,240.1 L680.6,242.0 L681.1,243.9 L681.5,245.8 L681.9,247.7 L682.3,249.6 L682.6,251.5 L682.9,253.4 L683.1,255.4 L683.4,257.3 L683.5,259.2 L683.7,261.1 L683.8,263.1 L683.9,265.0 L684.0,267.0 L684.0,268.9 L684.0,270.8 L684.0,272.8 L683.9,274.7 L683.9,276.7 L683.8,278.6 L683.6,280.6 L683.5,282.5 L683.3,284.5 L683.1,286.4 L682.8,288.4 L682.6,290.3 L682.3,292.2 L682.0,294.2 L681.6,296.1 L681.3,298.1 L680.9,300.0 L680.5,302.0 L680.1,303.9 L679.7,305.8 L679.2,307.8 L678.7,309.7 L678.2,311.6 L677.7,313.6 L677.2,315.5 L676.7,317.4 L676.1,319.3 L675.5,321.3 L674.9,323.2 L674.3,325.1 L673.7,327.0 L673.0,328.9 L672.4,330.8 L671.7,332.7 L671.0,334.6 L670.3,336.5 L669.6,338.4 L668.8,340.3 L668.1,342.2 L667.3,344.1 L666.6,346.0 L665.8,347.9 L665.0,349.7 L664.2,351.6 L663.4,353.5 L662.6,355.4 L661.7,357.2 L660.9,359.1 L660.1,360.9 L659.2,362.8 L658.3,364.7 L657.5,366.5 L656.6,368.4 L655.7,370.2 L654.8,372.0 L653.9,373.9 L653.0,375.7 L652.1,377.5 L651.2,379.4 L650.3,381.2 L649.4,383.0 L648.5,384.8 L647.6,386.6 L646.6,388.4 L645.7,390.2 L644.8,392.0 L643.8,393.8 L642.9,395.6 L641.9,397.4 L641.0,399.2 L640.0,401.0 L639.1,402.8 L638.1,404.6 L637.2,406.3 L636.2,408.1 L635.2,409.9 L634.2,411.6 L633.3,413.4 L632.3,415.2 L631.3,416.9 L630.3,418.7 L629.3,420.4 L628.3,422.2 L627.3,423.9 L626.3,425.7 L625.3,427.4 L624.3,429.1 L623.3,430.9 L622.3,432.6 L621.3,434.3 L620.2,436.1 L619.2,437.8 L618.2,439.5 L617.2,441.2 L616.1,442.9 L615.1,444.6 L614.1,446.4 L613.0,448.1 L612.0,449.8 L610.9,451.5 L609.9,453.2 L608.8,454.9 L607.8,456.6 L606.7,458.3 L605.6,460.0 L604.6,461.7 L603.5,463.4 L602.4,465.0 L601.3,466.7 L600.3,468.4 L599.2,470.1 L598.1,471.8 L597.0,473.5 L595.9,475.1 L594.8,476.8 L593.7,478.5 L592.6,480.1 L591.5,481.8 L590.4,483.5 L589.3,485.2 L588.2,486.8 L587.1,488.5 L586.0,490.2 L584.9,491.8 L583.7,493.5 L582.6,495.1 L581.5,496.8 L580.4,498.4 L579.2,500.1 L578.1,501.8 L577.0,503.4 L575.8,505.1 L574.7,506.7 L573.5,508.4 L572.4,510.0 L571.2,511.7 L570.1,513.3 L568.9,515.0 L567.8,516.6 L566.6,518.3 L565.5,519.9 L564.3,521.5 L563.1,523.2 L562.7,523.8"/><polygon fill="#000" points="558.9,521.1 554.9,534.7 566.5,526.5"/>
<path d="M721.3,189.5 L723.2,189.9 L725.0,190.3 L726.8,190.7 L728.7,191.2 L730.5,191.6 L732.4,192.0 L734.3,192.5 L736.1,192.9 L738.0,193.4 L739.9,193.9 L741.8,194.3 L743.7,194.8 L745.6,195.3 L747.5,195.8 L749.4,196.3 L751.3,196.8 L753.3,197.4 L755.2,197.9 L757.1,198.4 L759.0,199.0 L761.0,199.5 L762.9,200.1 L764.8,200.7 L766.8,201.3 L768.7,201.9 L770.6,202.5 L772.6,203.1 L774.5,203.7 L776.5,204.3 L778.4,204.9 L780.4,205.6 L782.3,206.2 L784.3,206.9 L786.2,207.6 L788.1,208.2 L790.1,208.9 L792.0,209.6 L794.0,210.3 L795.9,211.0 L797.8,211.8 L799.8,212.5 L801.7,213.3 L803.6,214.0 L805.6,214.8 L807.5,215.5 L809.4,216.3 L811.3,217.1 L813.2,217.9 L815.2,218.7 L817.1,219.6 L819.0,220.4 L820.9,221.2 L822.7,222.1 L824.6,223.0 L826.5,223.8 L828.4,224.7 L830.2,225.6 L832.1,226.5 L834.0,227.5 L835.8,228.4 L837.7,229.3 L839.5,230.3 L841.3,231.2 L843.1,232.2 L844.9,233.2 L846.8,234.2 L848.5,235.2 L850.3,236.2 L852.1,237.2 L853.9,238.3 L855.6,239.3 L857.4,240.4 L859.1,241.5 L860.8,242.6 L862.6,243.7 L864.3,244.8 L866.0,245.9 L867.7,247.0 L869.3,248.2 L871.0,249.3 L872.6,250.5 L874.3,251.7 L875.9,252.9 L877.5,254.1 L879.1,255.3 L880.7,256.6 L882.3,257.8 L883.8,259.1 L885.4,260.3 L886.9,261.6 L888.4,262.9 L889.9,264.2 L891.4,265.6 L892.9,266.9 L894.4,268.2 L895.8,269.6 L897.2,271.0 L898.6,272.4 L900.0,273.8 L901.4,275.2 L902.8,276.6 L904.1,278.1 L905.4,279.5 L906.8,281.0 L908.0,282.5 L909.3,284.0 L910.6,285.5 L911.8,287.0 L913.0,288.6 L914.2,290.1 L915.4,291.7 L916.6,293.3 L917.7,294.9 L918.8,296.5 L919.9,298.1 L921.0,299.8 L922.1,301.4 L923.1,303.1 L924.1,304.7 L925.1,306.4 L926.1,308.1 L927.0,309.9 L927.9,311.6 L928.9,313.3 L929.7,315.1 L930.6,316.9 L931.4,318.7 L932.2,320.5 L933.0,322.3 L933.8,324.1 L934.5,325.9 L935.2,327.8 L935.9,329.6 L936.5,331.5 L937.2,333.4 L937.8,335.3 L938.3,337.2 L938.9,339.1 L939.4,341.1 L939.9,343.0 L940.4,345.0 L940.8,346.9 L941.2,348.9 L941.6,350.9 L941.9,352.9 L942.3,354.9 L942.5,357.0 L942.8,359.0 L943.0,361.0 L943.2,363.1 L943.4,365.2 L943.5,367.3 L943.6,369.4 L943.7,371.5 L943.7,373.6 L943.8,375.7 L943.7,377.9 L943.7,380.0 L943.7,450.0 L943.9,452.2 L944.1,454.4 L944.1,456.6 L944.1,458.7 L944.1,460.8 L943.9,462.9 L943.7,464.9 L943.4,466.9 L943.0,468.9 L942.6,470.8 L942.1,472.8 L941.6,474.7 L941.0,476.5 L940.3,478.4 L939.6,480.2 L938.8,482.0 L938.0,483.8 L937.1,485.5 L936.1,487.2 L935.2,488.9 L934.1,490.6 L933.1,492.2 L932.0,493.8 L930.8,495.4 L929.7,497.0 L928.4,498.6 L927.2,500.1 L925.9,501.6 L924.6,503.1 L923.3,504.5 L921.9,506.0 L920.5,507.4 L919.1,508.8 L917.7,510.2 L916.3,511.5 L914.8,512.9 L913.3,514.2 L911.9,515.5 L910.4,516.8 L908.8,518.1 L907.3,519.3 L905.8,520.5 L904.2,521.8 L902.6,522.9 L901.0,524.1 L899.4,525.3 L897.8,526.4 L896.2,527.6 L894.5,528.7 L892.9,529.8 L891.2,530.8 L889.5,531.9 L887.8,533.0 L886.1,534.0 L884.4,535.0 L882.7,536.0 L881.0,537.0 L879.2,538.0 L877.5,539.0 L875.7,539.9 L873.9,540.9 L872.1,541.8 L870.4,542.7 L868.6,543.6 L866.7,544.5 L864.9,545.4 L863.1,546.3 L861.3,547.1 L859.4,548.0 L857.6,548.8 L855.7,549.7 L853.9,550.5 L852.0,551.3 L850.1,552.1 L848.3,552.9 L846.4,553.7 L844.5,554.4 L842.6,555.2 L840.7,556.0 L838.8,556.7 L836.9,557.5 L835.0,558.2 L833.1,559.0 L831.1,559.7 L829.2,560.4 L827.3,561.1 L825.4,561.8 L823.5,562.5 L821.5,563.2 L819.6,563.9 L817.7,564.6 L815.7,565.3 L813.8,566.0 L811.9,566.7 L809.9,567.3 L808.0,568.0 L806.1,568.7 L804.1,569.3 L802.2,570.0 L800.3,570.7 L798.3,571.3 L796.4,572.0 L794.5,572.6 L792.5,573.3 L790.6,573.9 L788.7,574.6 L786.7,575.2 L784.8,575.8 L782.9,576.5 L780.9,577.1 L779.0,577.7 L777.1,578.4 L775.1,579.0 L773.2,579.6 L771.3,580.2 L769.4,580.8 L767.4,581.4 L765.5,582.1 L763.6,582.7 L761.6,583.3 L759.7,583.9 L757.8,584.5 L755.8,585.1 L753.9,585.6 L752.0,586.2 L750.0,586.8 L748.1,587.4 L746.2,588.0 L744.2,588.6 L742.3,589.1 L740.3,589.7 L738.4,590.3 L736.5,590.9 L734.5,591.4 L732.6,592.0 L730.7,592.5 L728.7,593.1 L726.8,593.7 L724.9,594.2 L722.9,594.8 L721.0,595.3 L719.1,595.8 L717.1,596.4 L715.2,596.9 L713.3,597.5 L711.3,598.0 L709.4,598.5 L707.4,599.1 L705.5,599.6 L703.6,600.1 L701.6,600.6 L699.7,601.2 L697.7,601.7 L695.8,602.2 L693.9,602.7 L691.9,603.2 L690.0,603.7 L688.0,604.2 L686.1,604.7 L684.2,605.2 L682.2,605.7 L680.3,606.2 L678.3,606.7 L676.4,607.2 L674.5,607.7 L672.5,608.2 L670.6,608.7 L668.6,609.2 L666.7,609.7 L664.7,610.2 L662.8,610.6 L660.8,611.1 L658.9,611.6 L657.0,612.1 L655.0,612.5 L653.1,613.0 L651.1,613.5 L649.2,613.9 L647.2,614.4 L645.3,614.8 L643.3,615.3 L641.4,615.8 L639.4,616.2 L637.5,616.7 L635.5,617.1 L633.6,617.6 L631.6,618.0 L629.7,618.5 L627.7,618.9 L625.7,619.3 L623.8,619.8 L621.8,620.2 L619.9,620.6 L617.9,621.1 L616.0,621.5 L614.0,621.9 L612.1,622.4 L610.1,622.8 L608.1,623.2 L606.2,623.6 L604.2,624.1 L602.3,624.5 L600.3,624.9 L598.3,625.3 L596.4,625.7 L594.4,626.1 L592.4,626.6 L590.5,627.0 L588.5,627.4 L586.6,627.8 L584.6,628.2 L582.6,628.6 L580.7,629.0 L578.7,629.4 L576.7,629.8 L574.8,630.2 L572.8,630.6 L570.8,631.0 L568.8,631.4 L566.9,631.7 L564.9,632.1 L562.9,632.5 L560.9,632.9 L559.0,633.3 L557.0,633.7 L555.0,634.1 L553.0,634.4 L551.1,634.8 L549.1,635.2 L547.1,635.6 L545.1,635.9 L543.1,636.3 L541.2,636.7 L539.2,637.1 L537.2,637.4 L535.2,637.8 L533.2,638.2 L531.2,638.5 L529.3,638.9 L527.3,639.3 L525.3,639.6 L523.3,640.0 L521.3,640.3 L519.3,640.7 L517.3,641.1 L515.3,641.4 L513.3,641.8 L511.3,642.1 L509.4,642.5 L507.4,642.8 L505.4,643.2 L503.4,643.5 L501.4,643.9 L499.4,644.2 L497.4,644.6 L495.4,644.9 L494.5,645.1"/><polygon fill="#000" points="493.7,640.5 481.3,647.3 495.3,649.7"/>
<path d="M512.3,294.7 L458.2,334.7"/><polygon fill="#000" points="455.4,331.0 447.5,342.7 461.0,338.5"/>
<path d="M533.0,294.7 L531.5,297.8 L529.9,301.0 L528.3,304.1 L526.8,307.3 L525.2,310.4 L523.7,313.6 L522.1,316.7 L520.6,319.9 L519.0,323.1 L517.4,326.2 L515.9,329.4 L514.3,332.5 L512.8,335.7 L511.2,338.9 L509.6,342.0 L508.1,345.1 L506.6,348.3 L505.0,351.4 L503.5,354.5 L502.0,357.6 L500.4,360.7 L498.9,363.8 L497.4,366.9 L495.9,370.0 L494.5,372.9 L493.1,375.8 L491.6,378.7 L490.2,381.6 L488.8,384.5 L487.4,387.4 L486.0,390.3 L484.7,393.1 L483.3,396.0 L481.9,398.8 L480.5,401.7 L479.1,404.5 L477.7,407.4 L476.4,410.2 L475.0,413.1 L473.6,415.9 L472.3,418.7 L470.9,421.6 L469.5,424.4 L468.4,426.7"/><polygon fill="#000" points="464.2,424.6 462.6,438.7 472.6,428.7"/>
<path d="M544.7,294.7 L544.7,296.7 L544.8,298.7 L544.8,300.7 L544.9,302.7 L544.9,304.8 L544.9,306.8 L545.0,308.8 L545.0,310.8 L545.0,312.8 L545.0,314.9 L545.1,316.9 L545.1,318.9 L545.1,320.9 L545.1,322.9 L545.1,324.9 L545.2,327.0 L545.2,329.0 L545.2,331.0 L545.2,333.0 L545.2,335.0 L545.2,337.1 L545.2,339.1 L545.2,341.1 L545.2,343.1 L545.2,345.1 L545.2,347.1 L545.2,349.2 L545.2,351.2 L545.2,353.2 L545.2,355.2 L545.2,357.2 L545.2,359.3 L545.2,361.3 L545.1,363.3 L545.1,365.3 L545.1,367.3 L545.1,369.3 L545.1,371.4 L545.0,373.4 L545.0,375.4 L545.0,377.4 L545.0,379.4 L544.9,381.4 L544.9,383.5 L544.9,385.5 L544.8,387.5 L544.8,389.5 L544.8,391.5 L544.7,393.6 L544.7,395.6 L544.7,397.6 L544.6,399.6 L544.6,401.6 L544.5,403.6 L544.5,405.7 L544.4,407.7 L544.4,409.7 L544.3,411.7 L544.3,413.7 L544.2,415.7 L544.2,417.8 L544.1,419.8 L544.0,421.8 L544.0,423.8 L543.9,425.8 L543.8,427.9 L543.8,429.9 L543.7,431.9 L543.6,433.9 L543.6,435.9 L543.5,437.9 L543.4,440.0 L543.4,442.0 L543.3,444.0 L543.2,446.0 L543.1,448.0 L543.0,450.0 L543.0,452.1 L542.9,454.1 L542.8,456.1 L542.7,458.1 L542.6,460.1 L542.5,462.1 L542.4,464.2 L542.3,466.2 L542.3,468.2 L542.2,470.2 L542.1,472.2 L542.0,474.2 L541.9,476.2 L541.8,478.3 L541.7,480.3 L541.6,482.3 L541.5,484.3 L541.3,486.3 L541.2,488.3 L541.1,490.4 L541.0,492.4 L540.9,494.4 L540.8,496.4 L540.7,498.4 L540.6,500.4 L540.4,502.4 L540.3,504.5 L540.2,506.5 L540.1,508.5 L540.0,510.5 L539.8,512.5 L539.7,514.5 L539.6,516.5 L539.5,518.6 L539.3,520.6 L539.3,521.4"/><polygon fill="#000" points="534.6,521.1 538.4,534.7 543.9,521.7"/>
<path d="M559.9,294.7 L560.8,296.4 L561.8,298.2 L562.7,299.9 L563.6,301.7 L564.5,303.5 L565.5,305.2 L566.4,307.0 L567.3,308.8 L568.2,310.6 L569.2,312.3 L570.1,314.1 L571.0,315.9 L571.9,317.7 L572.8,319.5 L573.7,321.3 L574.6,323.0 L575.5,324.8 L576.4,326.6 L577.3,328.4 L578.2,330.2 L579.1,332.1 L580.0,333.9 L580.8,335.7 L581.7,337.5 L582.6,339.3 L583.4,341.1 L584.3,342.9 L585.2,344.8 L586.0,346.6 L586.8,348.4 L587.7,350.3 L588.5,352.1 L589.3,353.9 L590.2,355.8 L591.0,357.6 L591.8,359.5 L592.6,361.3 L593.4,363.2 L594.2,365.0 L595.0,366.9 L595.8,368.7 L596.5,370.6 L597.3,372.5 L598.1,374.3 L598.8,376.2 L599.5,378.1 L600.3,380.0 L601.0,381.8 L601.7,383.7 L602.4,385.6 L603.1,387.5 L603.8,389.4 L604.5,391.3 L605.2,393.2 L605.9,395.1 L606.5,397.0 L607.2,398.9 L607.8,400.8 L608.5,402.7 L609.1,404.7 L609.7,406.6 L610.3,408.5 L610.9,410.4 L611.5,412.3 L612.0,414.3 L612.6,416.2 L613.2,418.2 L613.7,420.1 L614.2,422.0 L614.7,424.0 L615.2,425.9 L615.7,427.9 L616.2,429.9 L616.7,431.8 L617.2,433.8 L617.6,435.7 L618.0,437.7 L618.5,439.7 L618.9,441.7 L619.3,443.6 L619.7,445.6 L620.0,447.6 L620.4,449.6 L620.8,451.6 L621.1,453.6 L621.4,455.6 L621.7,457.6 L622.0,459.6 L622.3,461.6 L622.6,463.6 L622.8,465.6 L623.0,467.6 L623.3,469.7 L623.5,471.7 L623.7,473.7 L623.8,475.8 L624.0,477.8 L624.2,479.8 L624.3,481.9 L624.4,483.9 L624.5,486.0 L624.6,488.0 L624.7,490.1 L624.7,492.1 L624.7,494.2 L624.8,496.2 L624.8,498.3 L624.7,500.3 L624.7,502.4 L624.6,504.4 L624.6,506.5 L624.5,508.5 L624.4,510.6 L624.2,512.6 L624.1,514.7 L623.9,516.7 L623.7,518.7 L623.5,520.8 L623.2,522.8 L623.0,524.8 L622.7,526.8 L622.4,528.8 L622.0,530.8 L621.7,532.8 L621.3,534.7 L620.9,536.7 L620.5,538.7 L620.0,540.6 L619.5,542.6 L619.0,544.5 L618.5,546.4 L618.0,548.3 L617.4,550.2 L616.8,552.1 L616.1,554.0 L615.5,555.9 L614.8,557.7 L614.1,559.5 L613.3,561.4 L612.5,563.2 L611.7,565.0 L610.9,566.7 L610.1,568.5 L609.2,570.2 L608.2,572.0 L607.3,573.7 L606.3,575.4 L605.3,577.0 L604.3,578.7 L603.2,580.3 L602.1,581.9 L601.0,583.5 L599.8,585.1 L598.6,586.7 L597.4,588.2 L596.2,589.8 L594.9,591.3 L593.7,592.8 L592.3,594.2 L591.0,595.7 L589.7,597.1 L588.3,598.6 L586.9,599.9 L585.4,601.3 L584.0,602.7 L582.5,604.0 L581.0,605.3 L579.5,606.6 L578.0,607.9 L576.4,609.2 L574.8,610.4 L573.2,611.6 L571.6,612.8 L570.0,614.0 L568.3,615.1 L566.6,616.3 L564.9,617.4 L563.2,618.5 L561.5,619.5 L559.8,620.6 L558.0,621.6 L556.2,622.6 L554.4,623.6 L552.6,624.5 L550.8,625.5 L549.0,626.4 L547.1,627.3 L545.3,628.1 L543.4,629.0 L541.5,629.8 L539.6,630.6 L537.7,631.4 L535.8,632.2 L533.9,632.9 L532.0,633.7 L530.1,634.4 L528.1,635.1 L526.2,635.8 L524.2,636.4 L522.3,637.1 L520.3,637.7 L518.3,638.3 L516.4,638.9 L514.4,639.5 L512.4,640.1 L510.5,640.6 L508.5,641.2 L506.5,641.7 L504.6,642.2 L502.6,642.7 L500.7,643.2 L498.7,643.6 L496.7,644.1 L494.8,644.5 L494.4,644.6"/><polygon fill="#000" points="493.5,640.0 481.3,647.3 495.3,649.2"/>
<path d="M770.7,279.8 L766.1,281.0 L761.4,282.1 L756.8,283.3 L752.2,284.4 L747.5,285.6 L742.9,286.8 L738.2,287.9 L733.6,289.1 L728.9,290.3 L724.3,291.5 L719.6,292.6 L715.0,293.8 L710.4,295.0 L705.7,296.1 L701.1,297.3 L696.5,298.4 L691.9,299.6 L687.3,300.7 L682.7,301.9 L678.1,303.0 L673.6,304.1 L669.0,305.3 L664.5,306.4 L660.0,307.5 L655.7,308.5 L651.5,309.6 L647.3,310.6 L643.1,311.6 L638.9,312.7 L634.8,313.7 L630.6,314.7 L626.5,315.7 L622.3,316.7 L618.2,317.7 L614.1,318.7 L610.0,319.7 L605.9,320.7 L601.7,321.7 L597.6,322.6 L593.5,323.6 L589.3,324.6 L585.2,325.6 L581.0,326.6 L576.9,327.6 L572.7,328.6 L568.5,329.7 L564.2,330.7 L560.0,331.7 L555.5,332.8 L551.1,333.9 L546.6,334.9 L542.1,336.0 L537.5,337.1 L533.0,338.2 L528.5,339.3 L523.9,340.4 L519.4,341.5 L514.8,342.6 L510.2,343.7 L505.6,344.8 L501.1,345.9 L496.5,347.0 L491.9,348.1 L487.3,349.2 L482.7,350.3 L478.1,351.4 L473.5,352.5 L468.9,353.6 L464.4,354.7 L463.6,354.9"/><polygon fill="#000" points="462.5,350.3 450.7,358.0 464.7,359.4"/>
<path d="M770.7,290.3 L768.9,291.3 L767.1,292.3 L765.4,293.2 L763.6,294.2 L761.8,295.2 L760.1,296.1 L758.3,297.1 L756.5,298.1 L754.8,299.0 L753.0,300.0 L751.2,301.0 L749.5,301.9 L747.7,302.9 L745.9,303.9 L744.2,304.8 L742.4,305.8 L740.6,306.7 L738.8,307.7 L737.1,308.7 L735.3,309.6 L733.5,310.6 L731.8,311.5 L730.0,312.5 L728.2,313.4 L726.4,314.4 L724.7,315.3 L722.9,316.3 L721.1,317.2 L719.3,318.2 L717.5,319.1 L715.8,320.1 L714.0,321.0 L712.2,322.0 L710.4,322.9 L708.7,323.9 L706.9,324.8 L705.1,325.8 L703.3,326.7 L701.5,327.7 L699.8,328.6 L698.0,329.5 L696.2,330.5 L694.4,331.4 L692.6,332.4 L690.9,333.3 L689.1,334.3 L687.3,335.2 L685.5,336.1 L683.7,337.1 L681.9,338.0 L680.2,339.0 L678.4,339.9 L676.6,340.8 L674.8,341.8 L673.0,342.7 L671.3,343.6 L669.5,344.6 L667.7,345.5 L665.9,346.5 L664.1,347.4 L662.3,348.3 L660.6,349.3 L658.8,350.2 L657.0,351.1 L655.2,352.1 L653.4,353.0 L651.6,354.0 L649.8,354.9 L648.1,355.8 L646.3,356.8 L644.5,357.7 L642.7,358.6 L640.9,359.6 L639.1,360.5 L637.4,361.4 L635.6,362.4 L633.8,363.3 L632.0,364.3 L630.2,365.2 L628.4,366.1 L626.7,367.1 L624.9,368.0 L623.1,368.9 L621.3,369.9 L619.5,370.8 L617.7,371.7 L616.0,372.7 L614.2,373.6 L612.4,374.6 L610.6,375.5 L608.8,376.4 L607.0,377.4 L605.3,378.3 L603.5,379.3 L601.7,380.2 L599.9,381.1 L598.1,382.1 L596.4,383.0 L594.6,384.0 L592.8,384.9 L591.0,385.9 L589.2,386.8 L587.5,387.8 L585.7,388.7 L583.9,389.6 L582.1,390.6 L580.3,391.5 L578.6,392.5 L576.8,393.4 L575.0,394.4 L573.2,395.3 L571.5,396.3 L569.7,397.2 L567.9,398.2 L566.1,399.1 L564.4,400.1 L562.6,401.0 L560.8,402.0 L559.0,403.0 L557.3,403.9 L555.5,404.9 L553.7,405.8 L552.0,406.8 L550.2,407.7 L548.4,408.7 L546.6,409.7 L544.9,410.6 L543.1,411.6 L541.3,412.6 L539.6,413.5 L537.8,414.5 L536.0,415.4 L534.3,416.4 L532.5,417.4 L530.7,418.4 L529.0,419.3 L527.2,420.3 L525.4,421.3 L523.7,422.2 L521.9,423.2 L520.1,424.2 L518.4,425.2 L516.6,426.2 L514.9,427.1 L513.1,428.1 L511.3,429.1 L509.6,430.1 L507.8,431.1 L506.1,432.1 L504.3,433.0 L502.6,434.0 L500.8,435.0 L499.1,436.0 L498.4,436.4"/><polygon fill="#000" points="496.1,432.3 486.8,443.0 500.7,440.5"/>
<path d="M802.0,294.7 L801.5,296.5 L801.0,298.4 L800.5,300.3 L800.0,302.2 L799.5,304.1 L799.0,306.0 L798.5,307.9 L798.0,309.8 L797.5,311.8 L797.0,313.7 L796.5,315.6 L796.0,317.5 L795.4,319.5 L794.9,321.4 L794.4,323.3 L793.8,325.3 L793.3,327.2 L792.7,329.1 L792.2,331.1 L791.6,333.0 L791.1,335.0 L790.5,336.9 L789.9,338.9 L789.4,340.8 L788.8,342.8 L788.2,344.7 L787.6,346.7 L787.0,348.6 L786.4,350.5 L785.8,352.5 L785.2,354.4 L784.5,356.4 L783.9,358.3 L783.3,360.3 L782.6,362.2 L782.0,364.1 L781.3,366.1 L780.6,368.0 L780.0,369.9 L779.3,371.9 L778.6,373.8 L777.9,375.7 L777.2,377.6 L776.4,379.5 L775.7,381.5 L775.0,383.4 L774.2,385.3 L773.5,387.2 L772.7,389.1 L772.0,390.9 L771.2,392.8 L770.4,394.7 L769.6,396.6 L768.8,398.4 L767.9,400.3 L767.1,402.2 L766.3,404.0 L765.4,405.8 L764.6,407.7 L763.7,409.5 L762.8,411.3 L761.9,413.1 L761.0,414.9 L760.1,416.7 L759.1,418.5 L758.2,420.3 L757.2,422.1 L756.3,423.8 L755.3,425.6 L754.3,427.3 L753.3,429.0 L752.3,430.8 L751.2,432.5 L750.2,434.2 L749.1,435.9 L748.1,437.6 L747.0,439.2 L745.9,440.9 L744.8,442.5 L743.7,444.2 L742.5,445.8 L741.4,447.4 L740.2,449.0 L739.0,450.6 L737.8,452.2 L736.6,453.7 L735.4,455.3 L734.1,456.8 L732.9,458.3 L731.6,459.9 L730.3,461.4 L729.0,462.8 L727.7,464.3 L726.4,465.8 L725.0,467.2 L723.6,468.6 L722.2,470.0 L720.9,471.4 L719.4,472.8 L718.0,474.2 L716.6,475.5 L715.1,476.9 L713.6,478.2 L712.2,479.5 L710.7,480.8 L709.2,482.1 L707.6,483.4 L706.1,484.7 L704.6,485.9 L703.0,487.2 L701.4,488.4 L699.8,489.6 L698.3,490.8 L696.6,492.0 L695.0,493.2 L693.4,494.4 L691.8,495.6 L690.1,496.7 L688.5,497.8 L686.8,499.0 L685.1,500.1 L683.4,501.2 L681.7,502.3 L680.0,503.4 L678.3,504.5 L676.6,505.5 L674.9,506.6 L673.2,507.6 L671.4,508.7 L669.7,509.7 L667.9,510.7 L666.2,511.7 L664.4,512.7 L662.6,513.7 L660.8,514.7 L659.0,515.7 L657.2,516.7 L655.5,517.6 L653.7,518.6 L651.8,519.5 L650.0,520.5 L648.2,521.4 L646.4,522.3 L644.6,523.2 L642.7,524.1 L640.9,525.0 L639.1,525.9 L637.2,526.8 L635.4,527.7 L633.6,528.5 L631.7,529.4 L629.9,530.3 L628.0,531.1 L626.2,532.0 L624.3,532.8 L622.5,533.6 L620.6,534.5 L618.8,535.3 L616.9,536.1 L615.1,536.9 L613.2,537.7 L611.4,538.5 L609.5,539.3 L607.7,540.1 L605.8,540.9 L604.0,541.7 L602.2,542.5 L601.6,542.7"/><polygon fill="#000" points="599.8,538.4 589.3,547.8 603.4,547.0"/>
<path d="M809.7,294.7 L810.0,296.7 L810.3,298.7 L810.5,300.7 L810.8,302.7 L811.0,304.7 L811.1,306.7 L811.3,308.7 L811.4,310.7 L811.6,312.8 L811.6,314.8 L811.7,316.8 L811.8,318.8 L811.8,320.8 L811.8,322.8 L811.8,324.8 L811.7,326.8 L811.7,328.8 L811.6,330.8 L811.5,332.8 L811.3,334.8 L811.2,336.8 L811.0,338.8 L810.8,340.8 L810.6,342.8 L810.4,344.8 L810.1,346.8 L809.9,348.8 L809.6,350.8 L809.3,352.7 L809.0,354.7 L808.6,356.7 L808.3,358.7 L807.9,360.6 L807.5,362.6 L807.1,364.6 L806.6,366.5 L806.2,368.5 L805.7,370.5 L805.2,372.4 L804.7,374.4 L804.2,376.3 L803.7,378.3 L803.1,380.2 L802.5,382.1 L801.9,384.1 L801.3,386.0 L800.7,387.9 L800.1,389.8 L799.4,391.7 L798.8,393.6 L798.1,395.5 L797.4,397.4 L796.7,399.3 L796.0,401.2 L795.3,403.1 L794.5,405.0 L793.7,406.9 L793.0,408.7 L792.2,410.6 L791.4,412.5 L790.6,414.3 L789.7,416.2 L788.9,418.0 L788.0,419.8 L787.2,421.6 L786.3,423.5 L785.4,425.3 L784.5,427.1 L783.6,428.9 L782.7,430.7 L781.7,432.5 L780.8,434.3 L779.8,436.0 L778.8,437.8 L777.9,439.6 L776.9,441.3 L775.9,443.1 L774.9,444.8 L773.9,446.5 L772.8,448.2 L771.8,450.0 L770.7,451.7 L769.7,453.4 L768.6,455.1 L767.5,456.8 L766.4,458.4 L765.3,460.1 L764.2,461.8 L763.1,463.4 L762.0,465.1 L760.8,466.7 L759.7,468.4 L758.5,470.0 L757.3,471.6 L756.2,473.3 L755.0,474.9 L753.8,476.5 L752.6,478.1 L751.4,479.6 L750.1,481.2 L748.9,482.8 L747.7,484.4 L746.4,485.9 L745.1,487.5 L743.9,489.0 L742.6,490.6 L741.3,492.1 L740.0,493.6 L738.7,495.1 L737.4,496.6 L736.1,498.1 L734.7,499.6 L733.4,501.1 L732.0,502.6 L730.7,504.0 L729.3,505.5 L727.9,507.0 L726.5,508.4 L725.2,509.8 L723.7,511.3 L722.3,512.7 L720.9,514.1 L719.5,515.5 L718.1,516.9 L716.6,518.3 L715.2,519.7 L713.7,521.1 L712.3,522.5 L710.8,523.8 L709.3,525.2 L707.8,526.5 L706.3,527.9 L704.8,529.2 L703.3,530.5 L701.8,531.9 L700.3,533.2 L698.7,534.5 L697.2,535.8 L695.6,537.1 L694.1,538.3 L692.5,539.6 L691.0,540.9 L689.4,542.2 L687.8,543.4 L686.2,544.7 L684.7,545.9 L683.1,547.2 L681.5,548.4 L679.9,549.6 L678.3,550.9 L676.7,552.1 L675.0,553.3 L673.4,554.5 L671.8,555.7 L670.2,556.9 L668.6,558.1 L666.9,559.3 L665.3,560.5 L663.7,561.7 L662.0,562.9 L660.4,564.1 L658.8,565.3 L657.1,566.4 L655.5,567.6 L653.8,568.8 L652.2,570.0 L650.5,571.1 L648.9,572.3 L647.2,573.5 L645.6,574.6 L644.0,575.8 L642.3,577.0 L640.7,578.1 L639.0,579.3 L637.4,580.4 L635.7,581.6 L634.1,582.7 L632.4,583.9 L630.8,585.0 L629.1,586.2 L627.5,587.3 L625.8,588.4 L624.1,589.5 L622.5,590.6 L620.8,591.7 L619.1,592.8 L617.5,593.9 L615.8,595.0 L614.1,596.1 L612.4,597.1 L610.7,598.1 L609.0,599.2 L607.3,600.2 L605.5,601.2 L603.8,602.1 L602.1,603.1 L600.3,604.1 L598.5,605.0 L596.8,605.9 L595.0,606.8 L593.2,607.7 L591.4,608.5 L589.6,609.4 L587.8,610.2 L586.0,611.0 L584.1,611.8 L582.3,612.6 L580.5,613.4 L578.6,614.1 L576.8,614.9 L574.9,615.6 L573.0,616.4 L571.1,617.1 L569.3,617.8 L567.4,618.5 L565.5,619.1 L563.6,619.8 L561.7,620.5 L559.8,621.1 L557.9,621.8 L556.0,622.4 L554.0,623.1 L552.1,623.7 L550.2,624.3 L548.3,625.0 L546.3,625.6 L544.4,626.2 L542.5,626.8 L540.5,627.4 L538.6,628.0 L536.7,628.6 L534.7,629.2 L532.8,629.8 L530.9,630.4 L528.9,631.0 L527.0,631.6 L525.1,632.2 L523.1,632.8 L521.2,633.4 L519.2,634.0 L517.3,634.6 L515.4,635.2 L513.5,635.8 L511.5,636.4 L509.6,637.1 L507.7,637.7 L505.8,638.3 L503.9,639.0 L502.0,639.6 L500.1,640.3 L498.2,640.9 L496.3,641.6 L494.4,642.3 L493.8,642.5"/><polygon fill="#000" points="492.1,638.1 481.3,647.3 495.4,646.8"/>
<path d="M146.7,286.5 L150.5,287.6 L154.4,288.6 L158.2,289.7 L162.0,290.7 L165.8,291.8 L169.6,292.8 L173.3,293.8 L177.1,294.9 L180.9,295.9 L184.6,296.9 L188.4,298.0 L192.2,299.0 L196.0,300.0 L199.8,301.1 L203.7,302.2 L207.6,303.2 L211.5,304.3 L215.4,305.4 L219.4,306.6 L223.4,307.7 L227.5,308.9 L231.6,310.1 L235.8,311.3 L240.0,312.5 L245.3,314.1 L250.6,315.6 L256.0,317.3 L261.6,318.9 L267.1,320.6 L272.8,322.3 L278.5,324.1 L284.2,325.8 L290.0,327.6 L295.9,329.4 L301.7,331.3 L307.7,333.1 L313.6,334.9 L319.5,336.8 L325.5,338.7 L331.4,340.5 L337.4,342.4 L343.4,344.2 L349.3,346.1 L355.2,347.9 L361.2,349.8 L365.9,351.3"/><polygon fill="#000" points="364.6,355.7 378.7,355.2 367.3,346.8"/>
<path d="M125.7,294.7 L127.3,295.9 L128.9,297.1 L130.5,298.3 L132.2,299.5 L133.8,300.8 L135.4,302.0 L137.0,303.2 L138.7,304.4 L140.3,305.6 L141.9,306.8 L143.6,308.0 L145.2,309.2 L146.8,310.3 L148.5,311.5 L150.1,312.7 L151.8,313.9 L153.4,315.1 L155.1,316.2 L156.7,317.4 L158.4,318.6 L160.0,319.8 L161.7,320.9 L163.4,322.1 L165.0,323.2 L166.7,324.4 L168.3,325.5 L170.0,326.7 L171.7,327.8 L173.4,329.0 L175.0,330.1 L176.7,331.3 L178.4,332.4 L180.1,333.5 L181.7,334.6 L183.4,335.8 L185.1,336.9 L186.8,338.0 L188.5,339.1 L190.2,340.2 L191.9,341.3 L193.6,342.4 L195.3,343.5 L197.0,344.6 L198.7,345.7 L200.4,346.8 L202.1,347.9 L203.8,349.0 L205.5,350.1 L207.2,351.2 L208.9,352.2 L210.6,353.3 L212.4,354.4 L214.1,355.5 L215.8,356.5 L217.5,357.6 L219.2,358.6 L221.0,359.7 L222.7,360.7 L224.4,361.8 L226.2,362.8 L227.9,363.9 L229.6,364.9 L231.4,365.9 L233.1,367.0 L234.9,368.0 L236.6,369.0 L238.4,370.0 L240.1,371.1 L241.9,372.1 L243.6,373.1 L245.4,374.1 L247.1,375.1 L248.9,376.1 L250.6,377.1 L252.4,378.1 L254.2,379.1 L255.9,380.0 L257.7,381.0 L259.5,382.0 L261.2,383.0 L263.0,383.9 L264.8,384.9 L266.6,385.9 L268.4,386.8 L270.1,387.8 L271.9,388.7 L273.7,389.7 L275.5,390.6 L277.3,391.6 L279.1,392.5 L280.9,393.4 L282.7,394.4 L284.5,395.3 L286.3,396.2 L288.1,397.1 L289.9,398.0 L291.7,398.9 L293.5,399.9 L295.3,400.8 L297.1,401.7 L298.9,402.6 L300.7,403.4 L302.6,404.3 L304.4,405.2 L306.2,406.1 L308.0,407.0 L309.8,407.8 L311.7,408.7 L313.5,409.6 L315.3,410.4 L317.2,411.3 L319.0,412.1 L320.8,413.0 L322.7,413.8 L324.5,414.7 L326.3,415.5 L328.2,416.3 L330.0,417.2 L331.9,418.0 L333.7,418.8 L335.6,419.6 L337.4,420.4 L339.3,421.2 L341.1,422.0 L343.0,422.8 L344.9,423.6 L346.7,424.4 L348.6,425.2 L350.5,426.0 L352.3,426.8 L354.2,427.5 L356.1,428.3 L357.9,429.1 L359.8,429.8 L361.7,430.6 L363.6,431.3 L365.5,432.1 L367.3,432.8 L369.2,433.6 L371.1,434.3 L373.0,435.0 L374.9,435.8 L376.8,436.5 L378.7,437.2 L380.6,437.9 L382.5,438.6 L384.4,439.3 L386.3,440.0 L388.2,440.7 L390.1,441.4 L392.0,442.1 L393.9,442.8 L395.8,443.5 L397.7,444.1 L399.6,444.8 L401.5,445.5 L402.4,445.8"/><polygon fill="#000" points="400.9,450.2 415.0,450.0 403.8,441.3"/>
<path d="M112.5,294.7 L113.8,296.2 L115.0,297.8 L116.3,299.4 L117.5,300.9 L118.8,302.5 L120.0,304.1 L121.3,305.6 L122.5,307.2 L123.8,308.8 L125.0,310.3 L126.3,311.9 L127.5,313.5 L128.8,315.1 L130.0,316.6 L131.3,318.2 L132.5,319.8 L133.8,321.3 L135.0,322.9 L136.3,324.5 L137.5,326.1 L138.7,327.6 L140.0,329.2 L141.2,330.8 L142.5,332.4 L143.7,333.9 L145.0,335.5 L146.2,337.1 L147.5,338.7 L148.7,340.2 L150.0,341.8 L151.2,343.4 L152.5,345.0 L153.7,346.5 L155.0,348.1 L156.2,349.7 L157.5,351.3 L158.7,352.8 L160.0,354.4 L161.2,356.0 L162.5,357.6 L163.7,359.1 L165.0,360.7 L166.2,362.3 L167.5,363.8 L168.8,365.4 L170.0,367.0 L171.3,368.6 L172.5,370.1 L173.8,371.7 L175.0,373.3 L176.3,374.9 L177.5,376.4 L178.8,378.0 L180.0,379.6 L181.3,381.1 L182.6,382.7 L183.8,384.3 L185.1,385.9 L186.3,387.4 L187.6,389.0 L188.9,390.6 L190.1,392.1 L191.4,393.7 L192.6,395.3 L193.9,396.8 L195.2,398.4 L196.4,400.0 L197.7,401.5 L199.0,403.1 L200.2,404.7 L201.5,406.2 L202.8,407.8 L204.0,409.4 L205.3,410.9 L206.6,412.5 L207.8,414.0 L209.1,415.6 L210.4,417.2 L211.6,418.7 L212.9,420.3 L214.2,421.8 L215.5,423.4 L216.7,425.0 L218.0,426.5 L219.3,428.1 L220.6,429.6 L221.9,431.2 L223.1,432.7 L224.4,434.3 L225.7,435.8 L227.0,437.4 L228.3,438.9 L229.6,440.5 L230.8,442.0 L232.1,443.6 L233.4,445.1 L234.7,446.7 L236.0,448.2 L237.3,449.7 L238.6,451.3 L239.9,452.8 L241.2,454.4 L242.5,455.9 L243.8,457.4 L245.1,459.0 L246.4,460.5 L247.7,462.0 L249.0,463.6 L250.3,465.1 L251.6,466.6 L252.9,468.2 L254.2,469.7 L255.5,471.2 L256.8,472.7 L258.1,474.3 L259.5,475.8 L260.8,477.3 L262.1,478.8 L263.4,480.3 L264.7,481.9 L266.0,483.4 L267.4,484.9 L268.7,486.4 L270.0,487.9 L271.3,489.4 L272.7,490.9 L274.0,492.4 L275.3,494.0 L276.7,495.5 L278.0,497.0 L279.3,498.5 L280.7,500.0 L282.0,501.5 L283.3,503.0 L284.7,504.5 L286.0,505.9 L287.4,507.4 L288.7,508.9 L290.1,510.4 L291.4,511.9 L292.8,513.4 L294.1,514.9 L295.5,516.4 L296.8,517.8 L298.2,519.3 L299.6,520.8 L300.9,522.3 L302.3,523.7 L303.7,525.2 L305.0,526.7 L306.4,528.2 L307.8,529.6 L309.1,531.1 L310.5,532.5 L311.9,534.0 L313.3,535.5 L314.7,536.9 L316.0,538.4 L317.4,539.8 L318.8,541.3 L320.2,542.7 L321.6,544.2 L323.0,545.6 L324.4,547.1 L325.8,548.5 L327.2,550.0 L328.6,551.4 L330.0,552.8 L331.4,554.3 L332.8,555.7 L334.2,557.1 L335.6,558.5 L337.0,560.0 L338.5,561.4 L339.9,562.8 L341.3,564.2 L342.7,565.6 L344.1,567.1 L345.6,568.5 L347.0,569.9 L348.4,571.3 L349.9,572.7 L351.3,574.1 L352.8,575.5 L354.2,576.9 L355.6,578.3 L357.1,579.7 L358.5,581.1 L360.0,582.5 L361.4,583.8 L362.9,585.2 L364.4,586.6 L365.8,588.0 L367.3,589.4 L368.8,590.7 L370.2,592.1 L371.7,593.5 L373.2,594.8 L374.6,596.2 L376.1,597.6 L377.6,598.9 L379.1,600.3 L380.6,601.6 L382.1,603.0 L383.6,604.3 L385.1,605.7 L386.6,607.0 L388.1,608.3 L389.6,609.7 L391.1,611.0 L392.6,612.3 L394.1,613.7 L395.6,615.0 L397.1,616.3 L398.6,617.6 L400.2,619.0 L401.7,620.3 L403.2,621.6 L403.8,622.1"/><polygon fill="#000" points="400.8,625.6 414.0,630.7 406.8,618.5"/>
<path d="M307.5,294.7 L367.6,335.2"/><polygon fill="#000" points="365.0,339.1 378.7,342.7 370.2,331.3"/>
<path d="M287.3,294.7 L288.5,296.3 L289.8,297.8 L291.0,299.4 L292.2,301.0 L293.5,302.6 L294.7,304.2 L296.0,305.8 L297.2,307.4 L298.5,309.0 L299.7,310.6 L300.9,312.1 L302.2,313.7 L303.4,315.3 L304.7,316.9 L305.9,318.5 L307.2,320.1 L308.5,321.7 L309.7,323.3 L311.0,324.9 L312.2,326.4 L313.5,328.0 L314.8,329.6 L316.0,331.2 L317.3,332.8 L318.6,334.4 L319.8,335.9 L321.1,337.5 L322.4,339.1 L323.7,340.7 L325.0,342.2 L326.3,343.8 L327.5,345.4 L328.8,347.0 L330.1,348.5 L331.4,350.1 L332.7,351.6 L334.0,353.2 L335.3,354.8 L336.7,356.3 L338.0,357.9 L339.3,359.4 L340.6,360.9 L341.9,362.5 L343.2,364.0 L344.6,365.6 L345.9,367.1 L347.2,368.6 L348.6,370.1 L349.9,371.7 L351.3,373.2 L352.6,374.7 L354.0,376.2 L355.3,377.7 L356.7,379.2 L358.1,380.7 L359.4,382.2 L360.8,383.7 L362.2,385.2 L363.6,386.7 L365.0,388.1 L366.4,389.6 L367.8,391.1 L369.2,392.5 L370.6,394.0 L372.0,395.4 L373.4,396.9 L374.8,398.3 L376.2,399.8 L377.7,401.2 L379.1,402.6 L380.6,404.0 L382.0,405.5 L383.5,406.9 L384.9,408.3 L386.4,409.7 L387.8,411.1 L389.3,412.4 L390.8,413.8 L392.3,415.2 L393.8,416.6 L395.3,417.9 L396.8,419.3 L398.3,420.6 L399.8,421.9 L401.3,423.3 L402.8,424.6 L404.4,425.9 L405.9,427.2 L407.4,428.5 L409.0,429.8 L409.6,430.3"/><polygon fill="#000" points="406.7,434.0 420.0,438.7 412.5,426.7"/>
<path d="M278.4,294.7 L279.0,296.6 L279.6,298.5 L280.2,300.4 L280.8,302.3 L281.4,304.2 L282.1,306.1 L282.7,307.9 L283.3,309.8 L284.0,311.7 L284.7,313.6 L285.3,315.5 L286.0,317.4 L286.7,319.3 L287.4,321.2 L288.1,323.1 L288.8,324.9 L289.5,326.8 L290.2,328.7 L291.0,330.6 L291.7,332.5 L292.5,334.3 L293.2,336.2 L294.0,338.1 L294.8,339.9 L295.6,341.8 L296.4,343.7 L297.2,345.5 L298.0,347.4 L298.8,349.2 L299.6,351.1 L300.5,352.9 L301.3,354.8 L302.2,356.6 L303.0,358.4 L303.9,360.3 L304.8,362.1 L305.6,363.9 L306.5,365.8 L307.4,367.6 L308.3,369.4 L309.3,371.2 L310.2,373.0 L311.1,374.8 L312.1,376.6 L313.0,378.4 L314.0,380.2 L314.9,382.0 L315.9,383.8 L316.9,385.6 L317.9,387.3 L318.9,389.1 L319.9,390.9 L320.9,392.6 L321.9,394.4 L323.0,396.1 L324.0,397.9 L325.1,399.6 L326.1,401.3 L327.2,403.0 L328.3,404.8 L329.4,406.5 L330.5,408.2 L331.6,409.9 L332.7,411.6 L333.8,413.3 L334.9,415.0 L336.0,416.6 L337.2,418.3 L338.3,420.0 L339.5,421.6 L340.7,423.3 L341.8,424.9 L343.0,426.6 L344.2,428.2 L345.4,429.8 L346.6,431.5 L347.8,433.1 L349.1,434.7 L350.3,436.3 L351.6,437.9 L352.8,439.4 L354.1,441.0 L355.3,442.6 L356.6,444.1 L357.9,445.7 L359.2,447.2 L360.5,448.8 L361.8,450.3 L363.1,451.8 L364.5,453.3 L365.8,454.8 L367.1,456.3 L368.5,457.8 L369.9,459.3 L371.2,460.8 L372.6,462.2 L374.0,463.7 L375.4,465.1 L376.8,466.5 L378.2,468.0 L379.6,469.4 L381.1,470.8 L382.5,472.2 L384.0,473.6 L385.4,475.0 L386.9,476.3 L388.3,477.7 L389.8,479.0 L391.3,480.4 L392.8,481.7 L394.3,483.0 L395.8,484.3 L397.4,485.6 L398.9,486.9 L400.4,488.2 L402.0,489.4 L403.6,490.7 L405.1,491.9 L406.7,493.2 L408.3,494.4 L409.9,495.6 L411.5,496.8 L413.1,498.0 L414.7,499.2 L416.3,500.3 L418.0,501.5 L419.6,502.6 L421.3,503.8 L422.9,504.9 L424.6,506.0 L426.3,507.1 L428.0,508.2 L429.7,509.2 L431.4,510.3 L433.1,511.3 L434.8,512.4 L436.5,513.4 L438.3,514.4 L440.0,515.4 L441.8,516.4 L443.6,517.4 L445.3,518.3 L447.1,519.3 L448.9,520.2 L450.7,521.1 L452.5,522.0 L454.3,522.9 L456.2,523.8 L458.0,524.7 L459.9,525.5 L461.7,526.4 L463.6,527.2 L465.4,528.0 L467.3,528.8 L469.2,529.6 L470.2,530.0"/><polygon fill="#000" points="468.5,534.4 482.7,534.7 471.8,525.6"/>
<path d="M272.1,294.7 L272.2,296.7 L272.4,298.8 L272.6,300.8 L272.7,302.9 L272.9,304.9 L273.1,306.9 L273.4,309.0 L273.6,311.0 L273.8,313.0 L274.1,315.1 L274.3,317.1 L274.6,319.1 L274.9,321.1 L275.2,323.1 L275.5,325.1 L275.8,327.1 L276.1,329.1 L276.5,331.1 L276.8,333.1 L277.2,335.1 L277.6,337.1 L278.0,339.0 L278.3,341.0 L278.8,343.0 L279.2,345.0 L279.6,346.9 L280.0,348.9 L280.5,350.9 L280.9,352.8 L281.4,354.8 L281.9,356.7 L282.3,358.7 L282.8,360.6 L283.3,362.6 L283.9,364.5 L284.4,366.4 L284.9,368.4 L285.5,370.3 L286.0,372.2 L286.6,374.1 L287.1,376.1 L287.7,378.0 L288.3,379.9 L288.9,381.8 L289.5,383.7 L290.1,385.6 L290.7,387.5 L291.4,389.4 L292.0,391.3 L292.7,393.2 L293.3,395.1 L294.0,397.0 L294.7,398.9 L295.3,400.8 L296.0,402.6 L296.7,404.5 L297.4,406.4 L298.1,408.3 L298.9,410.1 L299.6,412.0 L300.3,413.9 L301.1,415.7 L301.8,417.6 L302.6,419.4 L303.4,421.3 L304.1,423.1 L304.9,425.0 L305.7,426.8 L306.5,428.7 L307.3,430.5 L308.1,432.3 L308.9,434.2 L309.7,436.0 L310.6,437.8 L311.4,439.6 L312.3,441.5 L313.1,443.3 L314.0,445.1 L314.8,446.9 L315.7,448.7 L316.6,450.6 L317.4,452.4 L318.3,454.2 L319.2,456.0 L320.1,457.8 L321.0,459.6 L321.9,461.4 L322.9,463.2 L323.8,465.0 L324.7,466.8 L325.6,468.5 L326.6,470.3 L327.5,472.1 L328.5,473.9 L329.4,475.7 L330.4,477.4 L331.3,479.2 L332.3,481.0 L333.3,482.8 L334.2,484.5 L335.2,486.3 L336.2,488.1 L337.2,489.8 L338.2,491.6 L339.2,493.4 L340.2,495.1 L341.2,496.9 L342.2,498.6 L343.2,500.4 L344.3,502.1 L345.3,503.9 L346.3,505.6 L347.4,507.4 L348.4,509.1 L349.4,510.8 L350.5,512.6 L351.5,514.3 L352.6,516.0 L353.6,517.8 L354.7,519.5 L355.7,521.2 L356.8,523.0 L357.9,524.7 L358.9,526.4 L360.0,528.1 L361.1,529.9 L362.2,531.6 L363.2,533.3 L364.3,535.0 L365.4,536.7 L366.5,538.4 L367.6,540.1 L368.7,541.9 L369.8,543.6 L370.9,545.3 L372.0,547.0 L373.1,548.7 L374.2,550.4 L375.3,552.1 L376.4,553.8 L377.5,555.5 L378.6,557.2 L379.7,558.9 L380.8,560.6 L381.9,562.3 L383.0,563.9 L384.1,565.6 L385.3,567.3 L386.4,569.0 L387.5,570.7 L388.6,572.4 L389.7,574.1 L390.9,575.7 L392.0,577.4 L393.1,579.1 L394.2,580.8 L395.4,582.5 L396.5,584.1 L397.6,585.8 L398.7,587.5 L399.8,589.2 L401.0,590.8 L402.1,592.5 L403.2,594.2 L404.3,595.8 L405.5,597.5 L406.6,599.2 L407.7,600.8 L408.8,602.5 L410.0,604.2 L411.1,605.8 L412.2,607.5 L413.3,609.2 L414.5,610.8 L415.6,612.5 L416.7,614.1 L417.8,615.8 L418.9,617.4 L420.0,619.1 L420.4,619.6"/><polygon fill="#000" points="416.5,622.2 427.8,630.7 424.2,617.0"/>
<path d="M409.6,390.7 L409.1,392.7 L408.6,394.7 L408.2,396.7 L407.7,398.7 L407.3,400.7 L406.9,402.7 L406.5,404.7 L406.1,406.7 L405.7,408.7 L405.4,410.7 L405.0,412.7 L404.7,414.7 L404.4,416.7 L404.1,418.7 L403.9,420.8 L403.6,422.8 L403.4,424.8 L403.2,426.8 L403.0,428.8 L402.8,430.8 L402.6,432.8 L402.4,434.8 L402.3,436.8 L402.2,438.9 L402.0,440.9 L401.9,442.9 L401.8,444.9 L401.8,446.9 L401.7,448.9 L401.7,450.9 L401.6,452.9 L401.6,455.0 L401.6,457.0 L401.6,459.0 L401.6,461.0 L401.7,463.0 L401.7,465.0 L401.8,467.0 L401.8,469.0 L401.9,471.1 L402.0,473.1 L402.1,475.1 L402.2,477.1 L402.4,479.1 L402.5,481.1 L402.7,483.1 L402.8,485.1 L403.0,487.1 L403.2,489.1 L403.4,491.1 L403.6,493.2 L403.8,495.2 L404.1,497.2 L404.3,499.2 L404.6,501.2 L404.8,503.2 L405.1,505.2 L405.4,507.2 L405.7,509.2 L406.0,511.2 L406.3,513.2 L406.6,515.2 L406.9,517.2 L407.3,519.2 L407.6,521.2 L408.0,523.2 L408.3,525.2 L408.7,527.2 L409.1,529.1 L409.5,531.1 L409.9,533.1 L410.3,535.1 L410.7,537.1 L411.1,539.1 L411.6,541.1 L412.0,543.1 L412.4,545.0 L412.9,547.0 L413.4,549.0 L413.8,551.0 L414.3,553.0 L414.8,554.9 L415.3,556.9 L415.7,558.9 L416.2,560.9 L416.8,562.8 L417.3,564.8 L417.8,566.8 L418.3,568.7 L418.8,570.7 L419.4,572.7 L419.9,574.6 L420.4,576.6 L421.0,578.5 L421.5,580.5 L422.1,582.5 L422.7,584.4 L423.2,586.4 L423.8,588.3 L424.4,590.3 L425.0,592.2 L425.5,594.1 L426.1,596.1 L426.7,598.0 L427.3,600.0 L427.9,601.9 L428.5,603.8 L429.1,605.8 L429.7,607.7 L430.3,609.6 L431.0,611.5 L431.6,613.5 L432.2,615.4 L432.8,617.3 L433.0,618.0"/><polygon fill="#000" points="428.6,619.5 437.2,630.7 437.5,616.5"/>
<path d="M416.2,390.7 L429.1,426.1"/><polygon fill="#000" points="424.7,427.7 433.6,438.7 433.4,424.5"/>
<path d="M449.4,438.7 L449.2,438.0 L448.9,437.2 L448.7,436.5 L448.5,435.8 L448.2,435.1 L448.0,434.4 L447.7,433.7 L447.5,433.0 L447.3,432.3 L447.0,431.6 L446.8,430.9 L446.6,430.2 L446.3,429.5 L446.1,428.7 L445.9,428.0 L445.6,427.3 L445.4,426.6 L445.2,425.9 L444.9,425.2 L444.7,424.5 L444.5,423.8 L444.2,423.0 L444.0,422.3 L443.8,421.6 L443.6,420.9 L443.4,420.1 L443.2,419.4 L442.9,418.6 L442.7,417.9 L442.5,417.1 L442.3,416.4 L442.1,415.6 L441.9,414.9 L441.8,414.1 L441.6,413.3 L441.4,412.6 L441.2,411.8 L441.0,411.1 L440.8,410.3 L440.5,409.6 L440.3,408.9 L440.1,408.1 L439.9,407.4 L439.7,406.7 L439.4,406.0 L439.2,405.3 L439.0,404.6 L438.7,403.9 L438.5,403.3 L438.2,402.7 L438.2,402.6"/><polygon fill="#000" points="442.3,400.5 432.2,390.7 434.0,404.7"/>
<path d="M441.2,390.7 L443.0,391.7 L444.7,392.9 L446.4,394.0 L448.1,395.1 L449.8,396.3 L451.5,397.5 L453.1,398.7 L454.7,400.0 L456.3,401.3 L457.8,402.6 L459.3,403.9 L460.8,405.2 L462.3,406.6 L463.8,408.0 L465.2,409.4 L466.6,410.8 L468.0,412.3 L469.4,413.7 L470.7,415.2 L472.1,416.7 L473.4,418.2 L474.6,419.8 L475.9,421.3 L477.1,422.9 L478.4,424.5 L479.6,426.1 L480.8,427.7 L481.9,429.4 L483.1,431.0 L484.2,432.7 L485.3,434.4 L486.4,436.1 L487.4,437.8 L488.5,439.6 L489.5,441.3 L490.5,443.0 L491.5,444.8 L492.5,446.6 L493.5,448.4 L494.4,450.2 L495.3,452.0 L496.3,453.8 L497.1,455.7 L498.0,457.5 L498.9,459.4 L499.7,461.2 L500.6,463.1 L501.4,465.0 L502.2,466.9 L503.0,468.7 L503.8,470.6 L504.5,472.5 L505.3,474.5 L506.0,476.4 L506.7,478.3 L507.4,480.2 L508.1,482.2 L508.8,484.1 L509.5,486.0 L510.1,488.0 L510.8,489.9 L511.4,491.9 L512.0,493.8 L512.6,495.8 L513.2,497.7 L513.8,499.7 L514.4,501.7 L515.0,503.6 L515.5,505.6 L516.1,507.5 L516.6,509.5 L517.1,511.4 L517.6,513.4 L518.2,515.4 L518.7,517.3 L519.1,519.2 L519.6,521.2 L519.8,521.7"/><polygon fill="#000" points="515.2,522.8 522.8,534.7 524.3,520.6"/>
<path d="M541.4,534.7 L541.4,532.6 L541.4,530.6 L541.4,528.5 L541.3,526.5 L541.2,524.4 L541.1,522.4 L540.9,520.3 L540.7,518.3 L540.5,516.3 L540.3,514.3 L540.0,512.2 L539.7,510.2 L539.4,508.2 L539.1,506.2 L538.7,504.2 L538.3,502.2 L537.9,500.3 L537.5,498.3 L537.0,496.3 L536.5,494.4 L536.0,492.4 L535.5,490.4 L534.9,488.5 L534.3,486.6 L533.7,484.6 L533.1,482.7 L532.4,480.8 L531.7,478.9 L531.0,477.0 L530.3,475.1 L529.5,473.3 L528.8,471.4 L528.0,469.5 L527.2,467.7 L526.3,465.8 L525.5,464.0 L524.6,462.2 L523.7,460.4 L522.8,458.6 L521.8,456.8 L520.9,455.0 L519.9,453.2 L518.9,451.5 L517.8,449.7 L516.8,448.0 L515.7,446.3 L514.6,444.6 L513.5,442.9 L512.4,441.2 L511.3,439.5 L510.1,437.8 L508.9,436.2 L507.7,434.5 L506.5,432.9 L505.3,431.3 L504.0,429.7 L502.8,428.1 L501.5,426.5 L500.2,425.0 L498.9,423.4 L497.5,421.9 L496.2,420.4 L494.8,418.9 L493.4,417.4 L492.0,415.9 L490.6,414.4 L489.2,413.0 L487.7,411.6 L486.3,410.2 L484.8,408.8 L483.3,407.4 L481.8,406.0 L480.3,404.7 L478.7,403.3 L477.2,402.0 L475.6,400.7 L474.1,399.4 L472.5,398.2 L470.9,396.9 L469.2,395.7 L467.6,394.5 L466.0,393.3 L464.3,392.1 L462.7,390.9 L461.9,390.4"/><polygon fill="#000" points="464.4,386.5 450.7,383.3 459.4,394.4"/>
<path d="M464.2,486.7 L497.7,524.7"/><polygon fill="#000" points="494.2,527.8 506.5,534.7 501.2,521.6"/>
<path d="M523.3,534.7 L489.1,496.6"/><polygon fill="#000" points="492.6,493.5 480.2,486.7 485.6,499.7"/>
<path d="M450.2,486.7 L450.1,489.7 L450.0,492.8 L449.9,495.8 L449.8,498.9 L449.7,502.0 L449.6,505.0 L449.4,508.1 L449.3,511.2 L449.2,514.2 L449.1,517.3 L449.0,520.4 L448.9,523.4 L448.8,526.5 L448.7,529.5 L448.6,532.6 L448.5,535.7 L448.4,538.7 L448.3,541.8 L448.2,544.8 L448.1,547.9 L448.0,550.9 L447.9,553.9 L447.8,557.0 L447.7,560.0 L447.6,563.0 L447.5,565.9 L447.5,568.9 L447.4,571.9 L447.3,574.8 L447.3,577.8 L447.2,580.7 L447.1,583.7 L447.1,586.6 L447.0,589.5 L446.9,592.5 L446.9,595.4 L446.8,598.4 L446.8,601.3 L446.7,604.2 L446.7,607.2 L446.6,610.1 L446.6,613.0 L446.5,616.0 L446.5,617.3"/><polygon fill="#000" points="441.8,617.2 446.2,630.7 451.1,617.4"/>
<path d="M513.0,582.7 L476.9,621.0"/><polygon fill="#000" points="473.5,617.8 467.8,630.7 480.3,624.2"/>
</g>
</svg></body></html>
